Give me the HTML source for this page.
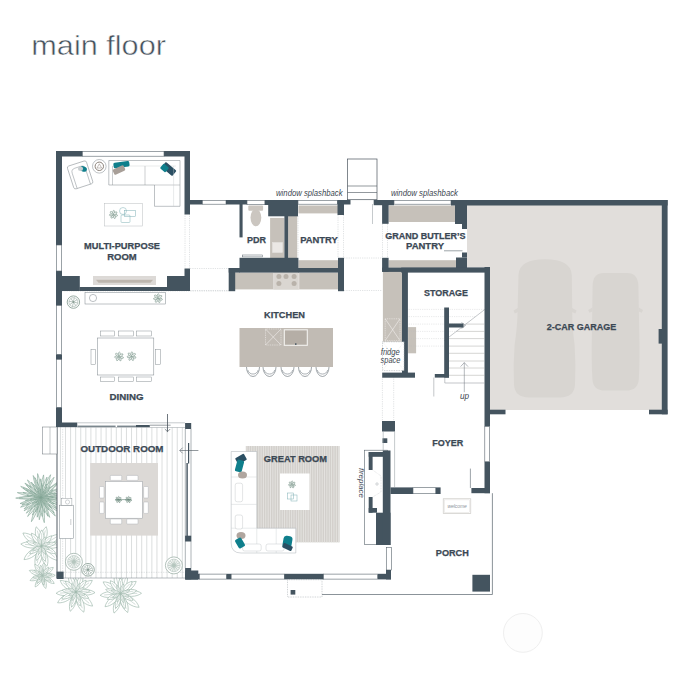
<!DOCTYPE html>
<html lang="en"><head><meta charset="utf-8"><title>main floor</title>
<style>
html,body{margin:0;padding:0;background:#fff;}
body{width:700px;height:680px;overflow:hidden;}
svg{display:block;}
svg text{font-family:"Liberation Sans",sans-serif;}
</style></head><body>
<svg width="700" height="680" viewBox="0 0 700 680">
<rect width="700" height="680" fill="#fff"/>
<path d="M467 205H662V410H490V267H467Z" fill="#e1dedb"/>
<path d="M518.5 275Q519 259.2 545 259.2Q571 259.2 571.8 275L572.3 318Q572.6 330 574.6 345Q576 365 575 385Q574 397.4 560 397.4H529Q515 397.4 514 385Q513 365 514.6 345Q516.8 330 517.4 318Z" fill="#d8d5d1"/>
<path d="M518 308L513.6 310.5L514.8 313.6L518 312Z M572 308L576.6 310.5L575.4 313.6L572 312Z" fill="#d8d5d1"/>
<path d="M592.6 286Q592.8 273 604 273H627Q638 273 638.4 286L639.2 330Q640 360 638.8 379Q638 390.6 626 390.6H605Q593 390.6 592.4 379Q591.2 360 592 330Z" fill="#d8d5d1"/>
<path d="M592.4 307.5L588.2 310L589.4 312.8L592.4 311.4Z M638.8 307.5L643 310L641.8 312.8L638.8 311.4Z" fill="#d8d5d1"/>
<path d="M41.0 497.5C48.7 498.9 57.5 498.5 63.0 497.0C57.5 495.8 48.7 495.8 41.0 497.5Z" fill="#e9f0ec" stroke="#7b9f90" stroke-width="0.55" stroke-linejoin="round"/>
<path d="M41.0 497.5C47.9 500.9 56.3 503.0 61.9 503.1C57.0 500.3 48.7 498.0 41.0 497.5Z" fill="#e9f0ec" stroke="#7b9f90" stroke-width="0.55" stroke-linejoin="round"/>
<path d="M41.0 497.5C47.4 502.7 55.6 506.9 61.4 508.3C57.0 504.3 48.9 499.9 41.0 497.5Z" fill="#e9f0ec" stroke="#7b9f90" stroke-width="0.55" stroke-linejoin="round"/>
<path d="M41.0 497.5C46.5 504.0 54.0 509.8 59.6 512.3C55.9 507.4 48.6 501.4 41.0 497.5Z" fill="#e9f0ec" stroke="#7b9f90" stroke-width="0.55" stroke-linejoin="round"/>
<path d="M41.0 497.5C44.7 505.0 50.6 512.3 55.4 516.0C52.9 510.5 47.3 503.0 41.0 497.5Z" fill="#e9f0ec" stroke="#7b9f90" stroke-width="0.55" stroke-linejoin="round"/>
<path d="M41.0 497.5C42.7 505.1 46.3 513.0 49.7 517.4C48.8 511.9 45.4 503.8 41.0 497.5Z" fill="#e9f0ec" stroke="#7b9f90" stroke-width="0.55" stroke-linejoin="round"/>
<path d="M41.0 497.5C40.4 506.5 41.9 516.6 44.3 522.7C45.1 516.2 43.9 506.1 41.0 497.5Z" fill="#e9f0ec" stroke="#7b9f90" stroke-width="0.55" stroke-linejoin="round"/>
<path d="M41.0 497.5C38.8 505.2 38.3 514.1 39.3 519.8C41.1 514.3 42.0 505.4 41.0 497.5Z" fill="#e9f0ec" stroke="#7b9f90" stroke-width="0.55" stroke-linejoin="round"/>
<path d="M41.0 497.5C36.0 505.3 32.3 515.0 31.4 521.7C35.3 516.2 39.3 506.6 41.0 497.5Z" fill="#e9f0ec" stroke="#7b9f90" stroke-width="0.55" stroke-linejoin="round"/>
<path d="M41.0 497.5C35.0 503.2 29.8 510.9 27.6 516.5C32.2 512.6 37.6 505.1 41.0 497.5Z" fill="#e9f0ec" stroke="#7b9f90" stroke-width="0.55" stroke-linejoin="round"/>
<path d="M41.0 497.5C34.2 501.0 27.5 506.4 24.1 510.8C29.2 508.5 36.0 503.3 41.0 497.5Z" fill="#e9f0ec" stroke="#7b9f90" stroke-width="0.55" stroke-linejoin="round"/>
<path d="M41.0 497.5C33.1 499.4 25.0 503.5 20.5 507.2C26.2 506.0 34.5 502.3 41.0 497.5Z" fill="#e9f0ec" stroke="#7b9f90" stroke-width="0.55" stroke-linejoin="round"/>
<path d="M41.0 497.5C33.2 498.2 24.9 500.8 20.0 503.6C25.7 503.4 34.1 501.1 41.0 497.5Z" fill="#e9f0ec" stroke="#7b9f90" stroke-width="0.55" stroke-linejoin="round"/>
<path d="M41.0 497.5C32.1 495.9 22.0 496.3 15.7 498.1C22.0 499.5 32.2 499.5 41.0 497.5Z" fill="#e9f0ec" stroke="#7b9f90" stroke-width="0.55" stroke-linejoin="round"/>
<path d="M41.0 497.5C33.1 494.1 23.6 492.4 17.3 492.6C22.9 495.3 32.4 497.4 41.0 497.5Z" fill="#e9f0ec" stroke="#7b9f90" stroke-width="0.55" stroke-linejoin="round"/>
<path d="M41.0 497.5C34.7 492.2 26.5 487.9 20.7 486.4C25.1 490.5 33.1 495.0 41.0 497.5Z" fill="#e9f0ec" stroke="#7b9f90" stroke-width="0.55" stroke-linejoin="round"/>
<path d="M41.0 497.5C36.4 491.3 29.9 485.7 24.9 483.1C28.0 487.7 34.4 493.6 41.0 497.5Z" fill="#e9f0ec" stroke="#7b9f90" stroke-width="0.55" stroke-linejoin="round"/>
<path d="M41.0 497.5C37.5 490.4 31.9 483.4 27.4 479.9C29.7 485.1 35.0 492.3 41.0 497.5Z" fill="#e9f0ec" stroke="#7b9f90" stroke-width="0.55" stroke-linejoin="round"/>
<path d="M41.0 497.5C39.8 489.2 36.5 480.5 33.2 475.5C33.7 481.5 36.7 490.3 41.0 497.5Z" fill="#e9f0ec" stroke="#7b9f90" stroke-width="0.55" stroke-linejoin="round"/>
<path d="M41.0 497.5C41.5 488.9 39.9 479.3 37.6 473.6C36.9 479.8 38.1 489.4 41.0 497.5Z" fill="#e9f0ec" stroke="#7b9f90" stroke-width="0.55" stroke-linejoin="round"/>
<path d="M41.0 497.5C43.5 489.8 44.4 480.7 43.6 474.9C41.5 480.4 40.3 489.4 41.0 497.5Z" fill="#e9f0ec" stroke="#7b9f90" stroke-width="0.55" stroke-linejoin="round"/>
<path d="M41.0 497.5C46.0 490.2 49.6 481.0 50.6 474.7C46.8 479.8 42.8 488.8 41.0 497.5Z" fill="#e9f0ec" stroke="#7b9f90" stroke-width="0.55" stroke-linejoin="round"/>
<path d="M41.0 497.5C47.0 491.3 52.1 483.1 54.1 477.2C49.5 481.5 44.2 489.5 41.0 497.5Z" fill="#e9f0ec" stroke="#7b9f90" stroke-width="0.55" stroke-linejoin="round"/>
<path d="M41.0 497.5C48.9 492.9 56.5 486.0 60.2 480.6C54.4 483.6 46.5 490.2 41.0 497.5Z" fill="#e9f0ec" stroke="#7b9f90" stroke-width="0.55" stroke-linejoin="round"/>
<path d="M41.0 497.5C48.8 495.4 56.9 491.3 61.4 487.5C55.7 488.7 47.4 492.6 41.0 497.5Z" fill="#e9f0ec" stroke="#7b9f90" stroke-width="0.55" stroke-linejoin="round"/>
<path d="M41.0 497.5C48.8 497.6 57.4 495.9 62.5 493.5C56.9 493.1 48.2 494.6 41.0 497.5Z" fill="#e9f0ec" stroke="#7b9f90" stroke-width="0.55" stroke-linejoin="round"/>
<path d="M41.0 497.5C47.3 501.4 55.1 504.2 60.4 504.8C56.0 501.8 48.3 498.7 41.0 497.5Z" fill="#e9f0ec" stroke="#7b9f90" stroke-width="0.55" stroke-linejoin="round"/>
<path d="M41.0 497.5C45.9 502.5 52.5 506.9 57.2 508.6C53.9 504.8 47.5 500.3 41.0 497.5Z" fill="#e9f0ec" stroke="#7b9f90" stroke-width="0.55" stroke-linejoin="round"/>
<path d="M41.0 497.5C44.6 503.8 50.0 509.9 54.3 513.0C52.0 508.3 46.7 502.0 41.0 497.5Z" fill="#e9f0ec" stroke="#7b9f90" stroke-width="0.55" stroke-linejoin="round"/>
<path d="M41.0 497.5C42.1 504.6 45.0 512.0 47.9 516.3C47.3 511.2 44.7 503.6 41.0 497.5Z" fill="#e9f0ec" stroke="#7b9f90" stroke-width="0.55" stroke-linejoin="round"/>
<path d="M41.0 497.5C40.1 504.2 40.7 511.8 42.2 516.4C43.1 511.6 42.7 504.0 41.0 497.5Z" fill="#e9f0ec" stroke="#7b9f90" stroke-width="0.55" stroke-linejoin="round"/>
<path d="M41.0 497.5C38.3 504.1 36.9 512.1 37.2 517.2C39.4 512.5 41.1 504.7 41.0 497.5Z" fill="#e9f0ec" stroke="#7b9f90" stroke-width="0.55" stroke-linejoin="round"/>
<path d="M41.0 497.5C36.8 503.1 33.5 510.2 32.5 515.1C35.8 511.2 39.3 504.3 41.0 497.5Z" fill="#e9f0ec" stroke="#7b9f90" stroke-width="0.55" stroke-linejoin="round"/>
<path d="M41.0 497.5C34.7 502.0 29.0 508.4 26.3 513.2C30.9 510.2 36.9 504.0 41.0 497.5Z" fill="#e9f0ec" stroke="#7b9f90" stroke-width="0.55" stroke-linejoin="round"/>
<path d="M41.0 497.5C34.3 500.3 27.6 504.9 24.0 508.8C29.0 507.1 35.9 502.7 41.0 497.5Z" fill="#e9f0ec" stroke="#7b9f90" stroke-width="0.55" stroke-linejoin="round"/>
<path d="M41.0 497.5C33.8 498.7 26.1 501.8 21.8 504.8C27.1 504.2 34.8 501.4 41.0 497.5Z" fill="#e9f0ec" stroke="#7b9f90" stroke-width="0.55" stroke-linejoin="round"/>
<path d="M41.0 497.5C33.4 496.1 24.7 496.5 19.2 498.0C24.7 499.2 33.4 499.2 41.0 497.5Z" fill="#e9f0ec" stroke="#7b9f90" stroke-width="0.55" stroke-linejoin="round"/>
<path d="M41.0 497.5C35.0 494.5 27.7 492.6 22.9 492.4C27.1 494.8 34.3 497.0 41.0 497.5Z" fill="#e9f0ec" stroke="#7b9f90" stroke-width="0.55" stroke-linejoin="round"/>
<path d="M41.0 497.5C35.4 492.9 28.1 489.1 23.0 487.8C26.9 491.4 34.0 495.4 41.0 497.5Z" fill="#e9f0ec" stroke="#7b9f90" stroke-width="0.55" stroke-linejoin="round"/>
<path d="M41.0 497.5C36.8 491.9 30.8 486.9 26.3 484.6C29.2 488.7 35.0 494.0 41.0 497.5Z" fill="#e9f0ec" stroke="#7b9f90" stroke-width="0.55" stroke-linejoin="round"/>
<path d="M41.0 497.5C38.7 491.4 34.8 485.4 31.4 482.1C32.8 486.6 36.6 492.8 41.0 497.5Z" fill="#e9f0ec" stroke="#7b9f90" stroke-width="0.55" stroke-linejoin="round"/>
<path d="M41.0 497.5C40.3 490.1 37.7 482.2 34.9 477.6C35.2 483.0 37.5 491.0 41.0 497.5Z" fill="#e9f0ec" stroke="#7b9f90" stroke-width="0.55" stroke-linejoin="round"/>
<path d="M41.0 497.5C42.2 490.9 42.0 483.5 40.7 478.8C39.6 483.5 39.6 491.0 41.0 497.5Z" fill="#e9f0ec" stroke="#7b9f90" stroke-width="0.55" stroke-linejoin="round"/>
<path d="M41.0 497.5C44.5 490.8 46.8 482.6 47.0 477.1C44.3 481.8 41.7 489.9 41.0 497.5Z" fill="#e9f0ec" stroke="#7b9f90" stroke-width="0.55" stroke-linejoin="round"/>
<path d="M41.0 497.5C45.6 492.3 49.4 485.5 50.8 480.6C47.3 484.2 43.2 490.9 41.0 497.5Z" fill="#e9f0ec" stroke="#7b9f90" stroke-width="0.55" stroke-linejoin="round"/>
<path d="M41.0 497.5C47.6 493.7 53.9 488.0 57.1 483.5C52.2 486.0 45.6 491.5 41.0 497.5Z" fill="#e9f0ec" stroke="#7b9f90" stroke-width="0.55" stroke-linejoin="round"/>
<path d="M41.0 497.5C48.4 495.9 56.1 492.4 60.5 489.0C55.1 489.9 47.2 493.2 41.0 497.5Z" fill="#e9f0ec" stroke="#7b9f90" stroke-width="0.55" stroke-linejoin="round"/>
<path d="M41.0 497.5C47.9 497.5 55.5 495.8 60.0 493.6C55.0 493.4 47.4 494.8 41.0 497.5Z" fill="#e9f0ec" stroke="#7b9f90" stroke-width="0.55" stroke-linejoin="round"/>
<path d="M41.0 497.5C48.3 499.6 56.8 500.1 62.2 499.2C57.0 497.4 48.6 496.6 41.0 497.5Z" fill="#e9f0ec" stroke="#7b9f90" stroke-width="0.55" stroke-linejoin="round"/>
<path d="M41.0 497.5C43.8 501.8 48.0 505.9 51.2 507.9C49.3 504.6 45.3 500.4 41.0 497.5Z" fill="#e9f0ec" stroke="#7b9f90" stroke-width="0.55" stroke-linejoin="round"/>
<path d="M41.0 497.5C42.9 502.4 46.1 507.4 48.8 510.1C47.6 506.4 44.6 501.4 41.0 497.5Z" fill="#e9f0ec" stroke="#7b9f90" stroke-width="0.55" stroke-linejoin="round"/>
<path d="M41.0 497.5C41.2 503.1 42.8 509.1 44.6 512.7C44.7 508.7 43.3 502.6 41.0 497.5Z" fill="#e9f0ec" stroke="#7b9f90" stroke-width="0.55" stroke-linejoin="round"/>
<path d="M41.0 497.5C39.3 502.5 38.7 508.5 39.2 512.3C40.6 508.7 41.4 502.8 41.0 497.5Z" fill="#e9f0ec" stroke="#7b9f90" stroke-width="0.55" stroke-linejoin="round"/>
<path d="M41.0 497.5C38.1 502.1 36.0 507.9 35.5 511.9C37.8 508.6 40.1 502.9 41.0 497.5Z" fill="#e9f0ec" stroke="#7b9f90" stroke-width="0.55" stroke-linejoin="round"/>
<path d="M41.0 497.5C36.5 500.9 32.4 505.8 30.5 509.4C33.9 507.1 38.1 502.4 41.0 497.5Z" fill="#e9f0ec" stroke="#7b9f90" stroke-width="0.55" stroke-linejoin="round"/>
<path d="M41.0 497.5C35.4 499.0 29.6 502.0 26.4 504.8C30.5 503.9 36.4 501.1 41.0 497.5Z" fill="#e9f0ec" stroke="#7b9f90" stroke-width="0.55" stroke-linejoin="round"/>
<path d="M41.0 497.5C35.3 497.5 29.0 498.9 25.3 500.7C29.4 500.9 35.7 499.7 41.0 497.5Z" fill="#e9f0ec" stroke="#7b9f90" stroke-width="0.55" stroke-linejoin="round"/>
<path d="M41.0 497.5C36.2 495.9 30.6 495.2 26.9 495.6C30.3 497.0 35.9 497.8 41.0 497.5Z" fill="#e9f0ec" stroke="#7b9f90" stroke-width="0.55" stroke-linejoin="round"/>
<path d="M41.0 497.5C36.4 493.8 30.4 490.9 26.2 489.9C29.4 492.8 35.3 495.9 41.0 497.5Z" fill="#e9f0ec" stroke="#7b9f90" stroke-width="0.55" stroke-linejoin="round"/>
<path d="M41.0 497.5C37.7 492.6 32.9 487.9 29.2 485.7C31.4 489.4 36.1 494.2 41.0 497.5Z" fill="#e9f0ec" stroke="#7b9f90" stroke-width="0.55" stroke-linejoin="round"/>
<path d="M41.0 497.5C39.2 492.3 36.0 487.1 33.3 484.3C34.4 488.1 37.4 493.4 41.0 497.5Z" fill="#e9f0ec" stroke="#7b9f90" stroke-width="0.55" stroke-linejoin="round"/>
<path d="M41.0 497.5C40.7 491.8 39.0 485.5 37.0 481.9C37.0 486.0 38.5 492.3 41.0 497.5Z" fill="#e9f0ec" stroke="#7b9f90" stroke-width="0.55" stroke-linejoin="round"/>
<path d="M41.0 497.5C42.3 492.6 42.5 486.9 41.8 483.3C40.7 486.8 40.3 492.5 41.0 497.5Z" fill="#e9f0ec" stroke="#7b9f90" stroke-width="0.55" stroke-linejoin="round"/>
<path d="M41.0 497.5C43.9 493.2 46.0 487.8 46.5 484.0C44.3 487.1 42.0 492.4 41.0 497.5Z" fill="#e9f0ec" stroke="#7b9f90" stroke-width="0.55" stroke-linejoin="round"/>
<path d="M41.0 497.5C45.0 494.4 48.7 490.1 50.4 486.8C47.4 488.9 43.5 493.1 41.0 497.5Z" fill="#e9f0ec" stroke="#7b9f90" stroke-width="0.55" stroke-linejoin="round"/>
<path d="M41.0 497.5C45.8 495.6 50.6 492.3 53.2 489.6C49.6 490.8 44.7 493.9 41.0 497.5Z" fill="#e9f0ec" stroke="#7b9f90" stroke-width="0.55" stroke-linejoin="round"/>
<path d="M41.0 497.5C46.4 497.2 52.3 495.6 55.8 493.7C51.8 493.7 45.9 495.1 41.0 497.5Z" fill="#e9f0ec" stroke="#7b9f90" stroke-width="0.55" stroke-linejoin="round"/>
<path d="M41.0 497.5C46.8 499.0 53.6 499.3 57.9 498.4C53.7 497.1 47.0 496.6 41.0 497.5Z" fill="#e9f0ec" stroke="#7b9f90" stroke-width="0.55" stroke-linejoin="round"/>
<path d="M41.0 497.5C45.2 500.6 50.5 503.0 54.1 503.7C51.2 501.3 46.0 498.7 41.0 497.5Z" fill="#e9f0ec" stroke="#7b9f90" stroke-width="0.55" stroke-linejoin="round"/>
<path d="M41.0 497.5C42.2 501.3 44.4 505.3 46.3 507.4C45.6 504.6 43.6 500.6 41.0 497.5Z" fill="#cfdcd5" stroke="#7b9f90" stroke-width="0.55" stroke-linejoin="round"/>
<path d="M41.0 497.5C40.7 501.3 41.2 505.6 42.1 508.2C42.5 505.4 42.1 501.1 41.0 497.5Z" fill="#cfdcd5" stroke="#7b9f90" stroke-width="0.55" stroke-linejoin="round"/>
<path d="M41.0 497.5C38.7 501.5 37.2 506.4 37.0 509.7C38.7 506.9 40.4 502.1 41.0 497.5Z" fill="#cfdcd5" stroke="#7b9f90" stroke-width="0.55" stroke-linejoin="round"/>
<path d="M41.0 497.5C37.9 500.3 35.2 504.0 34.0 506.8C36.4 504.9 39.2 501.2 41.0 497.5Z" fill="#cfdcd5" stroke="#7b9f90" stroke-width="0.55" stroke-linejoin="round"/>
<path d="M41.0 497.5C37.5 499.0 34.0 501.5 32.2 503.5C34.8 502.6 38.3 500.2 41.0 497.5Z" fill="#cfdcd5" stroke="#7b9f90" stroke-width="0.55" stroke-linejoin="round"/>
<path d="M41.0 497.5C37.1 497.5 32.7 498.5 30.2 499.7C33.0 499.9 37.4 499.0 41.0 497.5Z" fill="#cfdcd5" stroke="#7b9f90" stroke-width="0.55" stroke-linejoin="round"/>
<path d="M41.0 497.5C37.5 495.9 33.3 495.0 30.5 495.1C32.9 496.4 37.1 497.4 41.0 497.5Z" fill="#cfdcd5" stroke="#7b9f90" stroke-width="0.55" stroke-linejoin="round"/>
<path d="M41.0 497.5C37.5 494.6 33.0 492.2 29.8 491.4C32.2 493.6 36.7 496.2 41.0 497.5Z" fill="#cfdcd5" stroke="#7b9f90" stroke-width="0.55" stroke-linejoin="round"/>
<path d="M41.0 497.5C39.3 494.0 36.7 490.6 34.5 488.9C35.6 491.4 38.1 494.9 41.0 497.5Z" fill="#cfdcd5" stroke="#7b9f90" stroke-width="0.55" stroke-linejoin="round"/>
<path d="M41.0 497.5C40.7 493.8 39.5 489.8 38.2 487.4C38.3 490.1 39.3 494.2 41.0 497.5Z" fill="#cfdcd5" stroke="#7b9f90" stroke-width="0.55" stroke-linejoin="round"/>
<path d="M41.0 497.5C42.3 493.1 42.7 488.0 42.2 484.8C41.1 487.9 40.5 493.0 41.0 497.5Z" fill="#cfdcd5" stroke="#7b9f90" stroke-width="0.55" stroke-linejoin="round"/>
<path d="M41.0 497.5C43.8 494.2 46.1 489.9 46.9 486.9C44.7 489.2 42.3 493.4 41.0 497.5Z" fill="#cfdcd5" stroke="#7b9f90" stroke-width="0.55" stroke-linejoin="round"/>
<path d="M41.0 497.5C44.4 495.3 47.6 492.1 49.1 489.7C46.6 491.1 43.3 494.2 41.0 497.5Z" fill="#cfdcd5" stroke="#7b9f90" stroke-width="0.55" stroke-linejoin="round"/>
<path d="M41.0 497.5C45.3 496.6 49.8 494.5 52.3 492.6C49.2 493.1 44.6 495.0 41.0 497.5Z" fill="#cfdcd5" stroke="#7b9f90" stroke-width="0.55" stroke-linejoin="round"/>
<path d="M41.0 497.5C45.3 498.4 50.2 498.3 53.3 497.6C50.2 496.8 45.3 496.7 41.0 497.5Z" fill="#cfdcd5" stroke="#7b9f90" stroke-width="0.55" stroke-linejoin="round"/>
<path d="M41.0 497.5C44.3 499.5 48.5 501.0 51.3 501.3C49.0 499.7 44.9 498.1 41.0 497.5Z" fill="#cfdcd5" stroke="#7b9f90" stroke-width="0.55" stroke-linejoin="round"/>
<path d="M41.0 497.5C43.6 501.3 47.3 504.8 50.1 506.5C48.4 503.7 44.8 500.0 41.0 497.5Z" fill="#cfdcd5" stroke="#7b9f90" stroke-width="0.55" stroke-linejoin="round"/>
<path d="M41.0 497.5C40.6 500.4 40.8 503.6 41.4 505.6C41.8 503.5 41.7 500.3 41.0 497.5Z" fill="#cfdcd5" stroke="#7b9f90" stroke-width="0.55" stroke-linejoin="round"/>
<path d="M41.0 497.5C39.4 499.9 38.2 502.8 37.9 504.9C39.2 503.2 40.4 500.3 41.0 497.5Z" fill="#cfdcd5" stroke="#7b9f90" stroke-width="0.55" stroke-linejoin="round"/>
<path d="M41.0 497.5C38.8 499.0 36.7 501.3 35.7 503.0C37.3 501.9 39.5 499.8 41.0 497.5Z" fill="#cfdcd5" stroke="#7b9f90" stroke-width="0.55" stroke-linejoin="round"/>
<path d="M41.0 497.5C38.6 497.8 36.0 498.8 34.5 499.7C36.3 499.6 38.9 498.7 41.0 497.5Z" fill="#cfdcd5" stroke="#7b9f90" stroke-width="0.55" stroke-linejoin="round"/>
<path d="M41.0 497.5C38.5 496.8 35.6 496.6 33.8 496.9C35.5 497.5 38.4 497.8 41.0 497.5Z" fill="#cfdcd5" stroke="#7b9f90" stroke-width="0.55" stroke-linejoin="round"/>
<path d="M41.0 497.5C38.9 495.6 36.2 494.0 34.3 493.3C35.7 494.8 38.4 496.5 41.0 497.5Z" fill="#cfdcd5" stroke="#7b9f90" stroke-width="0.55" stroke-linejoin="round"/>
<path d="M41.0 497.5C40.2 494.9 38.8 492.3 37.5 490.9C38.0 492.7 39.3 495.4 41.0 497.5Z" fill="#cfdcd5" stroke="#7b9f90" stroke-width="0.55" stroke-linejoin="round"/>
<path d="M41.0 497.5C41.5 494.5 41.3 491.2 40.7 489.1C40.2 491.2 40.3 494.6 41.0 497.5Z" fill="#cfdcd5" stroke="#7b9f90" stroke-width="0.55" stroke-linejoin="round"/>
<path d="M41.0 497.5C42.5 495.3 43.6 492.6 44.0 490.7C42.8 492.2 41.6 494.9 41.0 497.5Z" fill="#cfdcd5" stroke="#7b9f90" stroke-width="0.55" stroke-linejoin="round"/>
<path d="M41.0 497.5C43.1 496.1 45.1 494.0 46.0 492.4C44.4 493.3 42.4 495.4 41.0 497.5Z" fill="#cfdcd5" stroke="#7b9f90" stroke-width="0.55" stroke-linejoin="round"/>
<path d="M41.0 497.5C43.5 497.1 46.2 496.1 47.7 495.0C45.9 495.2 43.2 496.2 41.0 497.5Z" fill="#cfdcd5" stroke="#7b9f90" stroke-width="0.55" stroke-linejoin="round"/>
<path d="M41.0 497.5C43.8 498.5 47.0 498.9 49.1 498.7C47.2 497.9 43.9 497.4 41.0 497.5Z" fill="#cfdcd5" stroke="#7b9f90" stroke-width="0.55" stroke-linejoin="round"/>
<path d="M41.0 497.5C42.8 499.5 45.3 501.2 47.1 501.9C45.9 500.4 43.5 498.6 41.0 497.5Z" fill="#cfdcd5" stroke="#7b9f90" stroke-width="0.55" stroke-linejoin="round"/>
<path d="M41.0 497.5C41.9 500.2 43.6 503.0 45.0 504.5C44.5 502.5 42.9 499.7 41.0 497.5Z" fill="#cfdcd5" stroke="#7b9f90" stroke-width="0.55" stroke-linejoin="round"/>
<path d="M41.5 546.0C49.4 549.7 58.0 548.5 63.1 544.2C57.4 540.8 48.7 541.0 41.5 546.0Z" fill="#fff" stroke="#9cb6aa" stroke-width="0.65" stroke-linejoin="round"/>
<path d="M41.5 546.0L58.8 544.6" stroke="#9cb6aa" stroke-width="0.45" fill="none"/>
<path d="M41.5 546.0C44.5 554.4 51.5 559.8 58.3 560.4C56.7 553.8 50.3 547.7 41.5 546.0Z" fill="#fff" stroke="#9cb6aa" stroke-width="0.65" stroke-linejoin="round"/>
<path d="M41.5 546.0L54.9 557.5" stroke="#9cb6aa" stroke-width="0.45" fill="none"/>
<path d="M41.5 546.0C39.4 554.2 42.0 562.2 47.0 566.3C49.3 560.2 47.5 552.0 41.5 546.0Z" fill="#fff" stroke="#9cb6aa" stroke-width="0.65" stroke-linejoin="round"/>
<path d="M41.5 546.0L45.9 562.3" stroke="#9cb6aa" stroke-width="0.45" fill="none"/>
<path d="M41.5 546.0C35.3 552.4 33.5 561.1 36.0 567.5C41.3 563.1 43.9 554.6 41.5 546.0Z" fill="#fff" stroke="#9cb6aa" stroke-width="0.65" stroke-linejoin="round"/>
<path d="M41.5 546.0L37.1 563.2" stroke="#9cb6aa" stroke-width="0.45" fill="none"/>
<path d="M41.5 546.0C32.7 547.3 25.9 553.1 24.0 559.6C30.8 559.4 38.1 554.3 41.5 546.0Z" fill="#fff" stroke="#9cb6aa" stroke-width="0.65" stroke-linejoin="round"/>
<path d="M41.5 546.0L27.5 556.9" stroke="#9cb6aa" stroke-width="0.45" fill="none"/>
<path d="M41.5 546.0C34.7 541.2 26.4 540.8 20.8 544.0C25.7 548.3 33.9 549.4 41.5 546.0Z" fill="#fff" stroke="#9cb6aa" stroke-width="0.65" stroke-linejoin="round"/>
<path d="M41.5 546.0L25.0 544.4" stroke="#9cb6aa" stroke-width="0.45" fill="none"/>
<path d="M41.5 546.0C37.6 537.7 29.9 532.9 22.9 533.0C25.2 539.6 32.4 545.2 41.5 546.0Z" fill="#fff" stroke="#9cb6aa" stroke-width="0.65" stroke-linejoin="round"/>
<path d="M41.5 546.0L26.6 535.6" stroke="#9cb6aa" stroke-width="0.45" fill="none"/>
<path d="M41.5 546.0C43.5 538.2 41.0 530.6 36.2 526.8C34.1 532.5 35.8 540.3 41.5 546.0Z" fill="#fff" stroke="#9cb6aa" stroke-width="0.65" stroke-linejoin="round"/>
<path d="M41.5 546.0L37.3 530.6" stroke="#9cb6aa" stroke-width="0.45" fill="none"/>
<path d="M41.5 546.0C47.0 540.2 48.5 532.4 46.2 526.7C41.6 530.7 39.3 538.3 41.5 546.0Z" fill="#fff" stroke="#9cb6aa" stroke-width="0.65" stroke-linejoin="round"/>
<path d="M41.5 546.0L45.3 530.5" stroke="#9cb6aa" stroke-width="0.45" fill="none"/>
<path d="M41.5 546.0C50.4 545.7 57.8 540.7 60.5 534.4C53.6 533.9 45.8 538.2 41.5 546.0Z" fill="#fff" stroke="#9cb6aa" stroke-width="0.65" stroke-linejoin="round"/>
<path d="M41.5 546.0L56.7 536.8" stroke="#9cb6aa" stroke-width="0.45" fill="none"/>
<path d="M41.5 546.0C45.0 551.4 50.8 554.1 55.7 553.4C53.5 549.0 48.0 545.7 41.5 546.0Z" fill="#fff" stroke="#9cb6aa" stroke-width="0.65" stroke-linejoin="round"/>
<path d="M41.5 546.0L52.9 551.9" stroke="#9cb6aa" stroke-width="0.45" fill="none"/>
<path d="M41.5 546.0C39.7 552.0 41.4 558.0 45.0 561.2C46.9 556.8 45.8 550.6 41.5 546.0Z" fill="#fff" stroke="#9cb6aa" stroke-width="0.65" stroke-linejoin="round"/>
<path d="M41.5 546.0L44.3 558.2" stroke="#9cb6aa" stroke-width="0.45" fill="none"/>
<path d="M41.5 546.0C36.8 550.0 35.0 555.9 36.3 560.4C40.2 557.8 42.6 552.1 41.5 546.0Z" fill="#fff" stroke="#9cb6aa" stroke-width="0.65" stroke-linejoin="round"/>
<path d="M41.5 546.0L37.4 557.5" stroke="#9cb6aa" stroke-width="0.45" fill="none"/>
<path d="M41.5 546.0C35.9 546.3 31.3 549.6 29.7 553.6C34.0 553.8 38.9 551.0 41.5 546.0Z" fill="#fff" stroke="#9cb6aa" stroke-width="0.65" stroke-linejoin="round"/>
<path d="M41.5 546.0L32.1 552.1" stroke="#9cb6aa" stroke-width="0.45" fill="none"/>
<path d="M41.5 546.0C37.2 541.4 31.1 539.9 26.6 541.5C29.5 545.3 35.4 547.4 41.5 546.0Z" fill="#fff" stroke="#9cb6aa" stroke-width="0.65" stroke-linejoin="round"/>
<path d="M41.5 546.0L29.6 542.4" stroke="#9cb6aa" stroke-width="0.45" fill="none"/>
<path d="M41.5 546.0C40.5 539.5 36.2 534.6 31.4 533.2C31.6 538.2 35.4 543.5 41.5 546.0Z" fill="#fff" stroke="#9cb6aa" stroke-width="0.65" stroke-linejoin="round"/>
<path d="M41.5 546.0L33.4 535.8" stroke="#9cb6aa" stroke-width="0.45" fill="none"/>
<path d="M41.5 546.0C44.8 540.4 44.6 533.9 41.7 529.9C38.7 533.9 38.3 540.3 41.5 546.0Z" fill="#fff" stroke="#9cb6aa" stroke-width="0.65" stroke-linejoin="round"/>
<path d="M41.5 546.0L41.7 533.1" stroke="#9cb6aa" stroke-width="0.45" fill="none"/>
<path d="M41.5 546.0C47.1 544.5 51.0 540.2 51.8 535.8C47.4 536.5 43.1 540.4 41.5 546.0Z" fill="#fff" stroke="#9cb6aa" stroke-width="0.65" stroke-linejoin="round"/>
<path d="M41.5 546.0L49.7 537.8" stroke="#9cb6aa" stroke-width="0.45" fill="none"/>
<path d="M41.5 546.0C47.1 547.9 52.8 546.4 55.9 543.1C51.8 541.2 46.0 542.1 41.5 546.0Z" fill="#fff" stroke="#9cb6aa" stroke-width="0.65" stroke-linejoin="round"/>
<path d="M41.5 546.0L53.0 543.7" stroke="#9cb6aa" stroke-width="0.45" fill="none"/>
<path d="M41.5 546.0C41.2 549.8 43.0 553.1 45.5 554.5C46.0 551.7 44.6 548.2 41.5 546.0Z" fill="#fff" stroke="#9cb6aa" stroke-width="0.65" stroke-linejoin="round"/>
<path d="M41.5 546.0L44.7 552.8" stroke="#9cb6aa" stroke-width="0.45" fill="none"/>
<path d="M41.5 546.0C38.7 548.4 37.6 551.9 38.3 554.6C40.7 553.0 42.1 549.6 41.5 546.0Z" fill="#fff" stroke="#9cb6aa" stroke-width="0.65" stroke-linejoin="round"/>
<path d="M41.5 546.0L39.0 552.9" stroke="#9cb6aa" stroke-width="0.45" fill="none"/>
<path d="M41.5 546.0C37.5 545.8 34.0 547.7 32.6 550.4C35.6 550.9 39.3 549.3 41.5 546.0Z" fill="#fff" stroke="#9cb6aa" stroke-width="0.65" stroke-linejoin="round"/>
<path d="M41.5 546.0L34.4 549.5" stroke="#9cb6aa" stroke-width="0.45" fill="none"/>
<path d="M41.5 546.0C39.2 543.1 35.7 541.9 32.9 542.7C34.4 545.0 37.8 546.5 41.5 546.0Z" fill="#fff" stroke="#9cb6aa" stroke-width="0.65" stroke-linejoin="round"/>
<path d="M41.5 546.0L34.6 543.3" stroke="#9cb6aa" stroke-width="0.45" fill="none"/>
<path d="M41.5 546.0C42.1 542.0 40.5 538.4 37.9 536.7C37.2 539.7 38.4 543.5 41.5 546.0Z" fill="#fff" stroke="#9cb6aa" stroke-width="0.65" stroke-linejoin="round"/>
<path d="M41.5 546.0L38.6 538.6" stroke="#9cb6aa" stroke-width="0.45" fill="none"/>
<path d="M41.5 546.0C44.6 543.5 46.0 539.8 45.2 536.8C42.6 538.4 41.0 542.0 41.5 546.0Z" fill="#fff" stroke="#9cb6aa" stroke-width="0.65" stroke-linejoin="round"/>
<path d="M41.5 546.0L44.5 538.6" stroke="#9cb6aa" stroke-width="0.45" fill="none"/>
<path d="M41.5 546.0C45.2 546.5 48.6 544.9 50.2 542.5C47.4 541.8 43.8 543.0 41.5 546.0Z" fill="#fff" stroke="#9cb6aa" stroke-width="0.65" stroke-linejoin="round"/>
<path d="M41.5 546.0L48.4 543.2" stroke="#9cb6aa" stroke-width="0.45" fill="none"/>
<path d="M41.5 546.0C43.6 548.7 46.8 549.9 49.4 549.4C48.0 547.1 44.9 545.6 41.5 546.0Z" fill="#fff" stroke="#9cb6aa" stroke-width="0.65" stroke-linejoin="round"/>
<path d="M41.5 546.0L47.8 548.7" stroke="#9cb6aa" stroke-width="0.45" fill="none"/>
<path d="M42.5 575.5C47.0 578.0 52.1 577.7 55.2 575.3C52.0 573.1 46.9 572.9 42.5 575.5Z" fill="#fff" stroke="#9cb6aa" stroke-width="0.65" stroke-linejoin="round"/>
<path d="M42.5 575.5L52.7 575.4" stroke="#9cb6aa" stroke-width="0.45" fill="none"/>
<path d="M42.5 575.5C45.0 580.6 49.8 583.6 54.2 583.5C52.7 579.4 48.2 576.0 42.5 575.5Z" fill="#fff" stroke="#9cb6aa" stroke-width="0.65" stroke-linejoin="round"/>
<path d="M42.5 575.5L51.8 581.9" stroke="#9cb6aa" stroke-width="0.45" fill="none"/>
<path d="M42.5 575.5C41.0 580.7 42.5 585.8 45.7 588.5C47.2 584.7 46.2 579.4 42.5 575.5Z" fill="#fff" stroke="#9cb6aa" stroke-width="0.65" stroke-linejoin="round"/>
<path d="M42.5 575.5L45.0 585.9" stroke="#9cb6aa" stroke-width="0.45" fill="none"/>
<path d="M42.5 575.5C37.7 578.0 35.0 582.8 35.2 586.9C39.1 585.4 42.2 581.0 42.5 575.5Z" fill="#fff" stroke="#9cb6aa" stroke-width="0.65" stroke-linejoin="round"/>
<path d="M42.5 575.5L36.7 584.6" stroke="#9cb6aa" stroke-width="0.45" fill="none"/>
<path d="M42.5 575.5C37.1 574.8 32.2 577.0 30.0 580.5C34.0 581.5 39.1 579.8 42.5 575.5Z" fill="#fff" stroke="#9cb6aa" stroke-width="0.65" stroke-linejoin="round"/>
<path d="M42.5 575.5L32.5 579.5" stroke="#9cb6aa" stroke-width="0.45" fill="none"/>
<path d="M42.5 575.5C38.9 571.1 33.5 569.4 29.3 570.5C31.7 574.2 36.9 576.4 42.5 575.5Z" fill="#fff" stroke="#9cb6aa" stroke-width="0.65" stroke-linejoin="round"/>
<path d="M42.5 575.5L32.0 571.5" stroke="#9cb6aa" stroke-width="0.45" fill="none"/>
<path d="M42.5 575.5C42.0 570.0 38.7 565.7 34.8 564.3C34.7 568.5 37.6 573.1 42.5 575.5Z" fill="#fff" stroke="#9cb6aa" stroke-width="0.65" stroke-linejoin="round"/>
<path d="M42.5 575.5L36.3 566.6" stroke="#9cb6aa" stroke-width="0.45" fill="none"/>
<path d="M42.5 575.5C45.6 571.3 46.0 566.2 44.1 562.7C41.4 565.6 40.5 570.7 42.5 575.5Z" fill="#fff" stroke="#9cb6aa" stroke-width="0.65" stroke-linejoin="round"/>
<path d="M42.5 575.5L43.8 565.2" stroke="#9cb6aa" stroke-width="0.45" fill="none"/>
<path d="M42.5 575.5C47.9 574.8 52.0 571.4 53.3 567.4C49.1 567.5 44.7 570.5 42.5 575.5Z" fill="#fff" stroke="#9cb6aa" stroke-width="0.65" stroke-linejoin="round"/>
<path d="M42.5 575.5L51.1 569.0" stroke="#9cb6aa" stroke-width="0.45" fill="none"/>
<path d="M42.5 575.5C44.3 579.2 47.7 581.3 50.8 581.2C49.8 578.3 46.6 575.8 42.5 575.5Z" fill="#fff" stroke="#9cb6aa" stroke-width="0.65" stroke-linejoin="round"/>
<path d="M42.5 575.5L49.1 580.1" stroke="#9cb6aa" stroke-width="0.45" fill="none"/>
<path d="M42.5 575.5C41.0 579.0 41.6 582.8 43.6 585.0C45.0 582.5 44.8 578.6 42.5 575.5Z" fill="#fff" stroke="#9cb6aa" stroke-width="0.65" stroke-linejoin="round"/>
<path d="M42.5 575.5L43.3 583.1" stroke="#9cb6aa" stroke-width="0.45" fill="none"/>
<path d="M42.5 575.5C39.0 577.2 36.9 580.4 36.9 583.4C39.7 582.4 42.1 579.4 42.5 575.5Z" fill="#fff" stroke="#9cb6aa" stroke-width="0.65" stroke-linejoin="round"/>
<path d="M42.5 575.5L38.0 581.8" stroke="#9cb6aa" stroke-width="0.45" fill="none"/>
<path d="M42.5 575.5C38.7 574.2 34.8 575.2 32.7 577.4C35.5 578.7 39.4 578.1 42.5 575.5Z" fill="#fff" stroke="#9cb6aa" stroke-width="0.65" stroke-linejoin="round"/>
<path d="M42.5 575.5L34.7 577.0" stroke="#9cb6aa" stroke-width="0.45" fill="none"/>
<path d="M42.5 575.5C40.7 572.0 37.4 570.0 34.4 570.1C35.4 572.9 38.6 575.2 42.5 575.5Z" fill="#fff" stroke="#9cb6aa" stroke-width="0.65" stroke-linejoin="round"/>
<path d="M42.5 575.5L36.0 571.2" stroke="#9cb6aa" stroke-width="0.45" fill="none"/>
<path d="M42.5 575.5C43.8 571.5 42.8 567.5 40.5 565.3C39.1 568.2 39.8 572.3 42.5 575.5Z" fill="#fff" stroke="#9cb6aa" stroke-width="0.65" stroke-linejoin="round"/>
<path d="M42.5 575.5L40.9 567.3" stroke="#9cb6aa" stroke-width="0.45" fill="none"/>
<path d="M42.5 575.5C46.3 573.8 48.6 570.4 48.6 567.2C45.6 568.2 43.0 571.4 42.5 575.5Z" fill="#fff" stroke="#9cb6aa" stroke-width="0.65" stroke-linejoin="round"/>
<path d="M42.5 575.5L47.4 568.9" stroke="#9cb6aa" stroke-width="0.45" fill="none"/>
<path d="M42.5 575.5C45.9 577.0 49.6 576.4 51.7 574.5C49.3 573.1 45.5 573.3 42.5 575.5Z" fill="#fff" stroke="#9cb6aa" stroke-width="0.65" stroke-linejoin="round"/>
<path d="M42.5 575.5L49.9 574.7" stroke="#9cb6aa" stroke-width="0.45" fill="none"/>
<path d="M42.5 575.5C41.8 578.0 42.6 580.4 44.1 581.6C44.8 579.8 44.3 577.3 42.5 575.5Z" fill="#fff" stroke="#9cb6aa" stroke-width="0.65" stroke-linejoin="round"/>
<path d="M42.5 575.5L43.8 580.4" stroke="#9cb6aa" stroke-width="0.45" fill="none"/>
<path d="M42.5 575.5C40.4 576.3 39.1 578.1 39.0 579.8C40.6 579.3 42.1 577.7 42.5 575.5Z" fill="#fff" stroke="#9cb6aa" stroke-width="0.65" stroke-linejoin="round"/>
<path d="M42.5 575.5L39.7 578.9" stroke="#9cb6aa" stroke-width="0.45" fill="none"/>
<path d="M42.5 575.5C40.3 574.6 38.0 575.0 36.7 576.2C38.3 577.1 40.6 576.9 42.5 575.5Z" fill="#fff" stroke="#9cb6aa" stroke-width="0.65" stroke-linejoin="round"/>
<path d="M42.5 575.5L37.9 576.1" stroke="#9cb6aa" stroke-width="0.45" fill="none"/>
<path d="M42.5 575.5C41.9 573.3 40.1 571.8 38.4 571.6C38.7 573.3 40.3 574.9 42.5 575.5Z" fill="#fff" stroke="#9cb6aa" stroke-width="0.65" stroke-linejoin="round"/>
<path d="M42.5 575.5L39.2 572.4" stroke="#9cb6aa" stroke-width="0.45" fill="none"/>
<path d="M42.5 575.5C43.9 573.5 44.0 571.1 43.0 569.4C41.8 570.9 41.5 573.3 42.5 575.5Z" fill="#fff" stroke="#9cb6aa" stroke-width="0.65" stroke-linejoin="round"/>
<path d="M42.5 575.5L42.9 570.7" stroke="#9cb6aa" stroke-width="0.45" fill="none"/>
<path d="M42.5 575.5C45.0 575.7 47.3 574.5 48.2 572.8C46.3 572.5 44.0 573.4 42.5 575.5Z" fill="#fff" stroke="#9cb6aa" stroke-width="0.65" stroke-linejoin="round"/>
<path d="M42.5 575.5L47.1 573.3" stroke="#9cb6aa" stroke-width="0.45" fill="none"/>
<path d="M42.5 575.5C44.1 577.4 46.5 578.0 48.3 577.5C47.2 575.9 44.9 575.0 42.5 575.5Z" fill="#fff" stroke="#9cb6aa" stroke-width="0.65" stroke-linejoin="round"/>
<path d="M42.5 575.5L47.1 577.1" stroke="#9cb6aa" stroke-width="0.45" fill="none"/>
<path d="M76.0 592.0C82.5 596.0 90.1 595.9 95.0 592.6C90.3 589.0 82.8 588.4 76.0 592.0Z" fill="#fff" stroke="#9cb6aa" stroke-width="0.65" stroke-linejoin="round"/>
<path d="M76.0 592.0L91.2 592.5" stroke="#9cb6aa" stroke-width="0.45" fill="none"/>
<path d="M76.0 592.0C79.0 600.2 85.9 605.5 92.6 606.1C90.9 599.6 84.6 593.6 76.0 592.0Z" fill="#fff" stroke="#9cb6aa" stroke-width="0.65" stroke-linejoin="round"/>
<path d="M76.0 592.0L89.2 603.3" stroke="#9cb6aa" stroke-width="0.45" fill="none"/>
<path d="M76.0 592.0C74.7 600.6 78.2 608.6 83.8 612.2C85.5 605.7 82.8 597.5 76.0 592.0Z" fill="#fff" stroke="#9cb6aa" stroke-width="0.65" stroke-linejoin="round"/>
<path d="M76.0 592.0L82.3 608.2" stroke="#9cb6aa" stroke-width="0.45" fill="none"/>
<path d="M76.0 592.0C70.1 597.6 68.2 605.4 70.2 611.3C75.1 607.5 77.8 599.9 76.0 592.0Z" fill="#fff" stroke="#9cb6aa" stroke-width="0.65" stroke-linejoin="round"/>
<path d="M76.0 592.0L71.3 607.4" stroke="#9cb6aa" stroke-width="0.45" fill="none"/>
<path d="M76.0 592.0C67.4 592.1 60.3 596.8 57.6 602.8C64.2 603.4 71.7 599.4 76.0 592.0Z" fill="#fff" stroke="#9cb6aa" stroke-width="0.65" stroke-linejoin="round"/>
<path d="M76.0 592.0L61.3 600.6" stroke="#9cb6aa" stroke-width="0.45" fill="none"/>
<path d="M76.0 592.0C68.8 588.5 60.8 589.4 56.1 593.3C61.3 596.6 69.3 596.4 76.0 592.0Z" fill="#fff" stroke="#9cb6aa" stroke-width="0.65" stroke-linejoin="round"/>
<path d="M76.0 592.0L60.1 593.1" stroke="#9cb6aa" stroke-width="0.45" fill="none"/>
<path d="M76.0 592.0C72.8 584.8 66.2 580.5 60.2 580.4C62.0 586.2 68.1 591.1 76.0 592.0Z" fill="#fff" stroke="#9cb6aa" stroke-width="0.65" stroke-linejoin="round"/>
<path d="M76.0 592.0L63.3 582.7" stroke="#9cb6aa" stroke-width="0.45" fill="none"/>
<path d="M76.0 592.0C77.1 584.2 73.9 577.1 68.8 573.8C67.4 579.6 69.9 587.1 76.0 592.0Z" fill="#fff" stroke="#9cb6aa" stroke-width="0.65" stroke-linejoin="round"/>
<path d="M76.0 592.0L70.3 577.4" stroke="#9cb6aa" stroke-width="0.45" fill="none"/>
<path d="M76.0 592.0C81.8 587.2 84.0 580.1 82.5 574.6C77.8 577.8 74.8 584.6 76.0 592.0Z" fill="#fff" stroke="#9cb6aa" stroke-width="0.65" stroke-linejoin="round"/>
<path d="M76.0 592.0L81.2 578.1" stroke="#9cb6aa" stroke-width="0.45" fill="none"/>
<path d="M76.0 592.0C84.0 591.2 90.3 586.3 92.3 580.4C86.1 580.4 79.4 584.7 76.0 592.0Z" fill="#fff" stroke="#9cb6aa" stroke-width="0.65" stroke-linejoin="round"/>
<path d="M76.0 592.0L89.0 582.8" stroke="#9cb6aa" stroke-width="0.45" fill="none"/>
<path d="M76.0 592.0C79.2 596.7 84.4 598.9 88.7 598.2C86.6 594.3 81.7 591.6 76.0 592.0Z" fill="#fff" stroke="#9cb6aa" stroke-width="0.65" stroke-linejoin="round"/>
<path d="M76.0 592.0L86.1 596.9" stroke="#9cb6aa" stroke-width="0.45" fill="none"/>
<path d="M76.0 592.0C74.7 597.7 76.7 603.2 80.3 605.9C81.7 601.7 80.3 596.0 76.0 592.0Z" fill="#fff" stroke="#9cb6aa" stroke-width="0.65" stroke-linejoin="round"/>
<path d="M76.0 592.0L79.4 603.1" stroke="#9cb6aa" stroke-width="0.45" fill="none"/>
<path d="M76.0 592.0C71.4 596.4 70.0 602.5 71.6 607.0C75.4 604.1 77.5 598.2 76.0 592.0Z" fill="#fff" stroke="#9cb6aa" stroke-width="0.65" stroke-linejoin="round"/>
<path d="M76.0 592.0L72.4 604.0" stroke="#9cb6aa" stroke-width="0.45" fill="none"/>
<path d="M76.0 592.0C69.7 591.5 64.2 594.5 61.8 598.7C66.6 599.6 72.4 597.2 76.0 592.0Z" fill="#fff" stroke="#9cb6aa" stroke-width="0.65" stroke-linejoin="round"/>
<path d="M76.0 592.0L64.7 597.3" stroke="#9cb6aa" stroke-width="0.45" fill="none"/>
<path d="M76.0 592.0C71.5 588.6 65.9 588.2 62.2 590.3C65.3 593.2 70.8 594.2 76.0 592.0Z" fill="#fff" stroke="#9cb6aa" stroke-width="0.65" stroke-linejoin="round"/>
<path d="M76.0 592.0L64.9 590.7" stroke="#9cb6aa" stroke-width="0.45" fill="none"/>
<path d="M76.0 592.0C74.5 586.1 70.1 581.9 65.5 581.0C66.1 585.7 70.1 590.3 76.0 592.0Z" fill="#fff" stroke="#9cb6aa" stroke-width="0.65" stroke-linejoin="round"/>
<path d="M76.0 592.0L67.6 583.2" stroke="#9cb6aa" stroke-width="0.45" fill="none"/>
<path d="M76.0 592.0C78.6 587.2 78.2 581.7 75.7 578.4C73.3 581.8 73.2 587.3 76.0 592.0Z" fill="#fff" stroke="#9cb6aa" stroke-width="0.65" stroke-linejoin="round"/>
<path d="M76.0 592.0L75.8 581.1" stroke="#9cb6aa" stroke-width="0.45" fill="none"/>
<path d="M76.0 592.0C81.9 589.9 85.7 585.0 86.1 580.2C81.4 581.3 77.2 585.9 76.0 592.0Z" fill="#fff" stroke="#9cb6aa" stroke-width="0.65" stroke-linejoin="round"/>
<path d="M76.0 592.0L84.1 582.6" stroke="#9cb6aa" stroke-width="0.45" fill="none"/>
<path d="M76.0 592.0C81.1 594.4 86.6 593.6 89.9 590.8C86.2 588.6 80.6 588.8 76.0 592.0Z" fill="#fff" stroke="#9cb6aa" stroke-width="0.65" stroke-linejoin="round"/>
<path d="M76.0 592.0L87.1 591.1" stroke="#9cb6aa" stroke-width="0.45" fill="none"/>
<path d="M76.0 592.0C75.8 595.8 77.6 599.1 80.2 600.5C80.7 597.6 79.2 594.1 76.0 592.0Z" fill="#fff" stroke="#9cb6aa" stroke-width="0.65" stroke-linejoin="round"/>
<path d="M76.0 592.0L79.3 598.8" stroke="#9cb6aa" stroke-width="0.45" fill="none"/>
<path d="M76.0 592.0C73.0 594.2 71.7 597.6 72.3 600.4C74.7 599.0 76.4 595.7 76.0 592.0Z" fill="#fff" stroke="#9cb6aa" stroke-width="0.65" stroke-linejoin="round"/>
<path d="M76.0 592.0L73.0 598.7" stroke="#9cb6aa" stroke-width="0.45" fill="none"/>
<path d="M76.0 592.0C72.7 591.8 69.8 593.5 68.7 595.7C71.2 596.1 74.2 594.8 76.0 592.0Z" fill="#fff" stroke="#9cb6aa" stroke-width="0.65" stroke-linejoin="round"/>
<path d="M76.0 592.0L70.1 595.0" stroke="#9cb6aa" stroke-width="0.45" fill="none"/>
<path d="M76.0 592.0C74.0 589.1 70.7 587.8 68.1 588.3C69.4 590.6 72.5 592.3 76.0 592.0Z" fill="#fff" stroke="#9cb6aa" stroke-width="0.65" stroke-linejoin="round"/>
<path d="M76.0 592.0L69.7 589.0" stroke="#9cb6aa" stroke-width="0.45" fill="none"/>
<path d="M76.0 592.0C76.2 588.2 74.3 584.9 71.7 583.5C71.2 586.4 72.8 589.9 76.0 592.0Z" fill="#fff" stroke="#9cb6aa" stroke-width="0.65" stroke-linejoin="round"/>
<path d="M76.0 592.0L72.5 585.2" stroke="#9cb6aa" stroke-width="0.45" fill="none"/>
<path d="M76.0 592.0C79.0 589.8 80.4 586.3 79.9 583.5C77.4 584.9 75.7 588.3 76.0 592.0Z" fill="#fff" stroke="#9cb6aa" stroke-width="0.65" stroke-linejoin="round"/>
<path d="M76.0 592.0L79.1 585.2" stroke="#9cb6aa" stroke-width="0.45" fill="none"/>
<path d="M76.0 592.0C79.8 592.2 83.1 590.3 84.4 587.8C81.5 587.3 78.1 588.8 76.0 592.0Z" fill="#fff" stroke="#9cb6aa" stroke-width="0.65" stroke-linejoin="round"/>
<path d="M76.0 592.0L82.7 588.6" stroke="#9cb6aa" stroke-width="0.45" fill="none"/>
<path d="M76.0 592.0C78.6 594.8 82.2 595.8 84.9 594.9C83.2 592.6 79.7 591.2 76.0 592.0Z" fill="#fff" stroke="#9cb6aa" stroke-width="0.65" stroke-linejoin="round"/>
<path d="M76.0 592.0L83.2 594.3" stroke="#9cb6aa" stroke-width="0.45" fill="none"/>
<path d="M120.5 593.5C127.9 597.6 136.3 597.1 141.5 593.3C136.2 589.6 127.8 589.2 120.5 593.5Z" fill="#fff" stroke="#9cb6aa" stroke-width="0.65" stroke-linejoin="round"/>
<path d="M120.5 593.5L137.3 593.3" stroke="#9cb6aa" stroke-width="0.45" fill="none"/>
<path d="M120.5 593.5C124.2 602.0 131.9 607.2 139.1 607.3C136.9 600.5 129.8 594.6 120.5 593.5Z" fill="#fff" stroke="#9cb6aa" stroke-width="0.65" stroke-linejoin="round"/>
<path d="M120.5 593.5L135.4 604.5" stroke="#9cb6aa" stroke-width="0.45" fill="none"/>
<path d="M120.5 593.5C119.2 601.6 122.4 609.0 127.7 612.5C129.3 606.4 126.8 598.7 120.5 593.5Z" fill="#fff" stroke="#9cb6aa" stroke-width="0.65" stroke-linejoin="round"/>
<path d="M120.5 593.5L126.2 608.7" stroke="#9cb6aa" stroke-width="0.45" fill="none"/>
<path d="M120.5 593.5C114.3 599.1 112.1 607.0 114.0 613.1C119.2 609.4 122.2 601.7 120.5 593.5Z" fill="#fff" stroke="#9cb6aa" stroke-width="0.65" stroke-linejoin="round"/>
<path d="M120.5 593.5L115.3 609.2" stroke="#9cb6aa" stroke-width="0.45" fill="none"/>
<path d="M120.5 593.5C112.4 595.0 106.5 600.6 105.0 606.7C111.3 606.2 117.7 601.2 120.5 593.5Z" fill="#fff" stroke="#9cb6aa" stroke-width="0.65" stroke-linejoin="round"/>
<path d="M120.5 593.5L108.1 604.1" stroke="#9cb6aa" stroke-width="0.45" fill="none"/>
<path d="M120.5 593.5C113.0 590.1 104.8 591.2 100.1 595.3C105.5 598.6 113.7 598.2 120.5 593.5Z" fill="#fff" stroke="#9cb6aa" stroke-width="0.65" stroke-linejoin="round"/>
<path d="M120.5 593.5L104.1 595.0" stroke="#9cb6aa" stroke-width="0.45" fill="none"/>
<path d="M120.5 593.5C116.8 586.0 109.6 581.6 103.1 581.9C105.4 587.9 112.1 592.9 120.5 593.5Z" fill="#fff" stroke="#9cb6aa" stroke-width="0.65" stroke-linejoin="round"/>
<path d="M120.5 593.5L106.6 584.2" stroke="#9cb6aa" stroke-width="0.45" fill="none"/>
<path d="M120.5 593.5C122.6 585.4 120.1 577.4 115.1 573.4C112.8 579.4 114.6 587.5 120.5 593.5Z" fill="#fff" stroke="#9cb6aa" stroke-width="0.65" stroke-linejoin="round"/>
<path d="M120.5 593.5L116.2 577.4" stroke="#9cb6aa" stroke-width="0.45" fill="none"/>
<path d="M120.5 593.5C126.6 588.0 128.7 580.1 126.8 574.1C121.7 577.8 118.8 585.4 120.5 593.5Z" fill="#fff" stroke="#9cb6aa" stroke-width="0.65" stroke-linejoin="round"/>
<path d="M120.5 593.5L125.6 577.9" stroke="#9cb6aa" stroke-width="0.45" fill="none"/>
<path d="M120.5 593.5C128.4 592.4 134.5 587.2 136.2 581.3C130.1 581.6 123.6 586.1 120.5 593.5Z" fill="#fff" stroke="#9cb6aa" stroke-width="0.65" stroke-linejoin="round"/>
<path d="M120.5 593.5L133.1 583.8" stroke="#9cb6aa" stroke-width="0.45" fill="none"/>
<path d="M120.5 593.5C123.5 598.4 128.7 600.9 133.1 600.3C131.1 596.4 126.3 593.4 120.5 593.5Z" fill="#fff" stroke="#9cb6aa" stroke-width="0.65" stroke-linejoin="round"/>
<path d="M120.5 593.5L130.5 599.0" stroke="#9cb6aa" stroke-width="0.45" fill="none"/>
<path d="M120.5 593.5C119.0 599.6 121.0 605.6 124.8 608.6C126.4 604.0 125.0 597.9 120.5 593.5Z" fill="#fff" stroke="#9cb6aa" stroke-width="0.65" stroke-linejoin="round"/>
<path d="M120.5 593.5L123.9 605.6" stroke="#9cb6aa" stroke-width="0.45" fill="none"/>
<path d="M120.5 593.5C115.9 597.7 114.3 603.7 115.7 608.2C119.6 605.4 121.8 599.6 120.5 593.5Z" fill="#fff" stroke="#9cb6aa" stroke-width="0.65" stroke-linejoin="round"/>
<path d="M120.5 593.5L116.7 605.3" stroke="#9cb6aa" stroke-width="0.45" fill="none"/>
<path d="M120.5 593.5C114.7 592.9 109.5 595.5 107.2 599.3C111.6 600.3 117.0 598.2 120.5 593.5Z" fill="#fff" stroke="#9cb6aa" stroke-width="0.65" stroke-linejoin="round"/>
<path d="M120.5 593.5L109.8 598.1" stroke="#9cb6aa" stroke-width="0.45" fill="none"/>
<path d="M120.5 593.5C116.1 589.1 110.1 587.8 105.7 589.5C108.6 593.2 114.5 595.1 120.5 593.5Z" fill="#fff" stroke="#9cb6aa" stroke-width="0.65" stroke-linejoin="round"/>
<path d="M120.5 593.5L108.6 590.3" stroke="#9cb6aa" stroke-width="0.45" fill="none"/>
<path d="M120.5 593.5C119.5 587.0 115.1 582.0 110.3 580.7C110.5 585.7 114.3 591.1 120.5 593.5Z" fill="#fff" stroke="#9cb6aa" stroke-width="0.65" stroke-linejoin="round"/>
<path d="M120.5 593.5L112.3 583.2" stroke="#9cb6aa" stroke-width="0.45" fill="none"/>
<path d="M120.5 593.5C123.6 588.1 123.4 581.8 120.6 577.9C117.7 581.8 117.4 588.0 120.5 593.5Z" fill="#fff" stroke="#9cb6aa" stroke-width="0.65" stroke-linejoin="round"/>
<path d="M120.5 593.5L120.6 581.0" stroke="#9cb6aa" stroke-width="0.45" fill="none"/>
<path d="M120.5 593.5C127.0 591.6 131.4 586.5 132.1 581.3C127.0 582.3 122.1 586.9 120.5 593.5Z" fill="#fff" stroke="#9cb6aa" stroke-width="0.65" stroke-linejoin="round"/>
<path d="M120.5 593.5L129.8 583.8" stroke="#9cb6aa" stroke-width="0.45" fill="none"/>
<path d="M120.5 593.5C126.7 595.7 133.1 594.2 136.6 590.6C132.1 588.4 125.6 589.2 120.5 593.5Z" fill="#fff" stroke="#9cb6aa" stroke-width="0.65" stroke-linejoin="round"/>
<path d="M120.5 593.5L133.4 591.1" stroke="#9cb6aa" stroke-width="0.45" fill="none"/>
<path d="M120.5 593.5C119.8 597.4 121.3 601.0 123.8 602.6C124.6 599.8 123.5 596.0 120.5 593.5Z" fill="#fff" stroke="#9cb6aa" stroke-width="0.65" stroke-linejoin="round"/>
<path d="M120.5 593.5L123.1 600.8" stroke="#9cb6aa" stroke-width="0.45" fill="none"/>
<path d="M120.5 593.5C117.6 595.8 116.4 599.3 117.1 602.1C119.5 600.6 121.0 597.2 120.5 593.5Z" fill="#fff" stroke="#9cb6aa" stroke-width="0.65" stroke-linejoin="round"/>
<path d="M120.5 593.5L117.7 600.4" stroke="#9cb6aa" stroke-width="0.45" fill="none"/>
<path d="M120.5 593.5C116.9 593.3 113.8 595.1 112.6 597.6C115.3 598.0 118.5 596.5 120.5 593.5Z" fill="#fff" stroke="#9cb6aa" stroke-width="0.65" stroke-linejoin="round"/>
<path d="M120.5 593.5L114.2 596.8" stroke="#9cb6aa" stroke-width="0.45" fill="none"/>
<path d="M120.5 593.5C117.8 590.6 114.0 589.5 111.1 590.4C112.9 592.9 116.6 594.3 120.5 593.5Z" fill="#fff" stroke="#9cb6aa" stroke-width="0.65" stroke-linejoin="round"/>
<path d="M120.5 593.5L113.0 591.1" stroke="#9cb6aa" stroke-width="0.45" fill="none"/>
<path d="M120.5 593.5C120.8 589.9 119.1 586.7 116.7 585.4C116.2 588.1 117.6 591.4 120.5 593.5Z" fill="#fff" stroke="#9cb6aa" stroke-width="0.65" stroke-linejoin="round"/>
<path d="M120.5 593.5L117.5 587.0" stroke="#9cb6aa" stroke-width="0.45" fill="none"/>
<path d="M120.5 593.5C123.5 590.8 124.6 586.9 123.6 584.0C121.1 585.8 119.7 589.5 120.5 593.5Z" fill="#fff" stroke="#9cb6aa" stroke-width="0.65" stroke-linejoin="round"/>
<path d="M120.5 593.5L123.0 585.9" stroke="#9cb6aa" stroke-width="0.45" fill="none"/>
<path d="M120.5 593.5C124.4 594.3 128.0 592.9 129.8 590.5C126.9 589.6 123.2 590.6 120.5 593.5Z" fill="#fff" stroke="#9cb6aa" stroke-width="0.65" stroke-linejoin="round"/>
<path d="M120.5 593.5L127.9 591.1" stroke="#9cb6aa" stroke-width="0.45" fill="none"/>
<path d="M120.5 593.5C122.8 596.3 126.3 597.4 129.0 596.7C127.5 594.3 124.1 592.9 120.5 593.5Z" fill="#fff" stroke="#9cb6aa" stroke-width="0.65" stroke-linejoin="round"/>
<path d="M120.5 593.5L127.3 596.0" stroke="#9cb6aa" stroke-width="0.45" fill="none"/>
<rect x="57.00" y="427.00" width="133.50" height="151.00" fill="#fff" />
<line x1="60.42" y1="427.00" x2="60.42" y2="578.00" stroke="#c2c7c7" stroke-width="0.6" />
<line x1="65.50" y1="427.00" x2="65.50" y2="578.00" stroke="#c2c7c7" stroke-width="0.6" />
<line x1="70.58" y1="427.00" x2="70.58" y2="578.00" stroke="#c2c7c7" stroke-width="0.6" />
<line x1="75.66" y1="427.00" x2="75.66" y2="578.00" stroke="#c2c7c7" stroke-width="0.6" />
<line x1="80.74" y1="427.00" x2="80.74" y2="578.00" stroke="#c2c7c7" stroke-width="0.6" />
<line x1="85.82" y1="427.00" x2="85.82" y2="578.00" stroke="#c2c7c7" stroke-width="0.6" />
<line x1="90.90" y1="427.00" x2="90.90" y2="578.00" stroke="#c2c7c7" stroke-width="0.6" />
<line x1="95.98" y1="427.00" x2="95.98" y2="578.00" stroke="#c2c7c7" stroke-width="0.6" />
<line x1="101.06" y1="427.00" x2="101.06" y2="578.00" stroke="#c2c7c7" stroke-width="0.6" />
<line x1="106.14" y1="427.00" x2="106.14" y2="578.00" stroke="#c2c7c7" stroke-width="0.6" />
<line x1="111.22" y1="427.00" x2="111.22" y2="578.00" stroke="#c2c7c7" stroke-width="0.6" />
<line x1="116.30" y1="427.00" x2="116.30" y2="578.00" stroke="#c2c7c7" stroke-width="0.6" />
<line x1="121.38" y1="427.00" x2="121.38" y2="578.00" stroke="#c2c7c7" stroke-width="0.6" />
<line x1="126.46" y1="427.00" x2="126.46" y2="578.00" stroke="#c2c7c7" stroke-width="0.6" />
<line x1="131.54" y1="427.00" x2="131.54" y2="578.00" stroke="#c2c7c7" stroke-width="0.6" />
<line x1="136.62" y1="427.00" x2="136.62" y2="578.00" stroke="#c2c7c7" stroke-width="0.6" />
<line x1="141.70" y1="427.00" x2="141.70" y2="578.00" stroke="#c2c7c7" stroke-width="0.6" />
<line x1="146.78" y1="427.00" x2="146.78" y2="578.00" stroke="#c2c7c7" stroke-width="0.6" />
<line x1="151.86" y1="427.00" x2="151.86" y2="578.00" stroke="#c2c7c7" stroke-width="0.6" />
<line x1="156.94" y1="427.00" x2="156.94" y2="578.00" stroke="#c2c7c7" stroke-width="0.6" />
<line x1="162.02" y1="427.00" x2="162.02" y2="578.00" stroke="#c2c7c7" stroke-width="0.6" />
<line x1="167.10" y1="427.00" x2="167.10" y2="578.00" stroke="#c2c7c7" stroke-width="0.6" />
<line x1="172.18" y1="427.00" x2="172.18" y2="578.00" stroke="#c2c7c7" stroke-width="0.6" />
<line x1="177.26" y1="427.00" x2="177.26" y2="578.00" stroke="#c2c7c7" stroke-width="0.6" />
<line x1="182.34" y1="427.00" x2="182.34" y2="578.00" stroke="#c2c7c7" stroke-width="0.6" />
<rect x="57.00" y="427.00" width="133.50" height="151.00" fill="none" stroke="#6f7880" stroke-width="0.5" />
<line x1="57.00" y1="427.00" x2="57.00" y2="578.00" stroke="#4a545d" stroke-width="0.7" />
<line x1="62.70" y1="429.00" x2="62.70" y2="572.30" stroke="#9aa1a6" stroke-width="0.4" stroke-dasharray="0.7 1"/>
<line x1="62.70" y1="572.30" x2="185.00" y2="572.30" stroke="#9aa1a6" stroke-width="0.4" stroke-dasharray="0.7 1"/>
<rect x="42.40" y="427.00" width="14.60" height="27.00" fill="#fff" stroke="#6b737a" stroke-width="0.5" />
<line x1="50.00" y1="427.00" x2="50.00" y2="454.00" stroke="#6b737a" stroke-width="0.4" />
<rect x="90.20" y="463.00" width="67.80" height="72.60" fill="#dcd9d6" />
<rect x="245.80" y="446.00" width="93.80" height="96.30" fill="#d2cfcb" />
<line x1="247.00" y1="446.00" x2="247.00" y2="542.60" stroke="#e9e7e4" stroke-width="0.8" />
<line x1="249.35" y1="446.00" x2="249.35" y2="542.60" stroke="#e9e7e4" stroke-width="0.8" />
<line x1="251.70" y1="446.00" x2="251.70" y2="542.60" stroke="#e9e7e4" stroke-width="0.8" />
<line x1="254.05" y1="446.00" x2="254.05" y2="542.60" stroke="#e9e7e4" stroke-width="0.8" />
<line x1="256.40" y1="446.00" x2="256.40" y2="542.60" stroke="#e9e7e4" stroke-width="0.8" />
<line x1="258.75" y1="446.00" x2="258.75" y2="542.60" stroke="#e9e7e4" stroke-width="0.8" />
<line x1="261.10" y1="446.00" x2="261.10" y2="542.60" stroke="#e9e7e4" stroke-width="0.8" />
<line x1="263.45" y1="446.00" x2="263.45" y2="542.60" stroke="#e9e7e4" stroke-width="0.8" />
<line x1="265.80" y1="446.00" x2="265.80" y2="542.60" stroke="#e9e7e4" stroke-width="0.8" />
<line x1="268.15" y1="446.00" x2="268.15" y2="542.60" stroke="#e9e7e4" stroke-width="0.8" />
<line x1="270.50" y1="446.00" x2="270.50" y2="542.60" stroke="#e9e7e4" stroke-width="0.8" />
<line x1="272.85" y1="446.00" x2="272.85" y2="542.60" stroke="#e9e7e4" stroke-width="0.8" />
<line x1="275.20" y1="446.00" x2="275.20" y2="542.60" stroke="#e9e7e4" stroke-width="0.8" />
<line x1="277.55" y1="446.00" x2="277.55" y2="542.60" stroke="#e9e7e4" stroke-width="0.8" />
<line x1="279.90" y1="446.00" x2="279.90" y2="542.60" stroke="#e9e7e4" stroke-width="0.8" />
<line x1="282.25" y1="446.00" x2="282.25" y2="542.60" stroke="#e9e7e4" stroke-width="0.8" />
<line x1="284.60" y1="446.00" x2="284.60" y2="542.60" stroke="#e9e7e4" stroke-width="0.8" />
<line x1="286.95" y1="446.00" x2="286.95" y2="542.60" stroke="#e9e7e4" stroke-width="0.8" />
<line x1="289.30" y1="446.00" x2="289.30" y2="542.60" stroke="#e9e7e4" stroke-width="0.8" />
<line x1="291.65" y1="446.00" x2="291.65" y2="542.60" stroke="#e9e7e4" stroke-width="0.8" />
<line x1="294.00" y1="446.00" x2="294.00" y2="542.60" stroke="#e9e7e4" stroke-width="0.8" />
<line x1="296.35" y1="446.00" x2="296.35" y2="542.60" stroke="#e9e7e4" stroke-width="0.8" />
<line x1="298.70" y1="446.00" x2="298.70" y2="542.60" stroke="#e9e7e4" stroke-width="0.8" />
<line x1="301.05" y1="446.00" x2="301.05" y2="542.60" stroke="#e9e7e4" stroke-width="0.8" />
<line x1="303.40" y1="446.00" x2="303.40" y2="542.60" stroke="#e9e7e4" stroke-width="0.8" />
<line x1="305.75" y1="446.00" x2="305.75" y2="542.60" stroke="#e9e7e4" stroke-width="0.8" />
<line x1="308.10" y1="446.00" x2="308.10" y2="542.60" stroke="#e9e7e4" stroke-width="0.8" />
<line x1="310.45" y1="446.00" x2="310.45" y2="542.60" stroke="#e9e7e4" stroke-width="0.8" />
<line x1="312.80" y1="446.00" x2="312.80" y2="542.60" stroke="#e9e7e4" stroke-width="0.8" />
<line x1="315.15" y1="446.00" x2="315.15" y2="542.60" stroke="#e9e7e4" stroke-width="0.8" />
<line x1="317.50" y1="446.00" x2="317.50" y2="542.60" stroke="#e9e7e4" stroke-width="0.8" />
<line x1="319.85" y1="446.00" x2="319.85" y2="542.60" stroke="#e9e7e4" stroke-width="0.8" />
<line x1="322.20" y1="446.00" x2="322.20" y2="542.60" stroke="#e9e7e4" stroke-width="0.8" />
<line x1="324.55" y1="446.00" x2="324.55" y2="542.60" stroke="#e9e7e4" stroke-width="0.8" />
<line x1="326.90" y1="446.00" x2="326.90" y2="542.60" stroke="#e9e7e4" stroke-width="0.8" />
<line x1="329.25" y1="446.00" x2="329.25" y2="542.60" stroke="#e9e7e4" stroke-width="0.8" />
<line x1="331.60" y1="446.00" x2="331.60" y2="542.60" stroke="#e9e7e4" stroke-width="0.8" />
<line x1="333.95" y1="446.00" x2="333.95" y2="542.60" stroke="#e9e7e4" stroke-width="0.8" />
<line x1="336.30" y1="446.00" x2="336.30" y2="542.60" stroke="#e9e7e4" stroke-width="0.8" />
<line x1="338.65" y1="446.00" x2="338.65" y2="542.60" stroke="#e9e7e4" stroke-width="0.8" />
<rect x="235.00" y="272.60" width="103.00" height="16.80" fill="#c6c1ba" />
<rect x="273.70" y="272.60" width="25.20" height="16.80" fill="#dad6d1" />
<circle cx="278.9" cy="276.6" r="2.5" fill="#b9b2aa"/>
<circle cx="286" cy="276.6" r="2.5" fill="#b9b2aa"/>
<circle cx="294.1" cy="276.6" r="2.5" fill="#b9b2aa"/>
<circle cx="278.9" cy="283.4" r="2.5" fill="#b9b2aa"/>
<circle cx="294.1" cy="283.4" r="2.5" fill="#b9b2aa"/>
<line x1="273.70" y1="272.60" x2="273.70" y2="289.40" stroke="#eeeceb" stroke-width="0.6" />
<line x1="298.90" y1="272.60" x2="298.90" y2="289.40" stroke="#eeeceb" stroke-width="0.6" />
<rect x="239.50" y="328.00" width="93.50" height="39.00" fill="#c1bbb4" />
<rect x="265.50" y="329.00" width="15.50" height="16.00" fill="none" stroke="#f1efec" stroke-width="0.6" stroke-dasharray="1 0.8"/>
<line x1="265.50" y1="329.00" x2="281.00" y2="345.00" stroke="#f1efec" stroke-width="0.6" />
<line x1="281.00" y1="329.00" x2="265.50" y2="345.00" stroke="#f1efec" stroke-width="0.6" />
<rect x="284.30" y="329.80" width="23.00" height="15.50" fill="#b5aea6" stroke="#f4f2f0" stroke-width="1.1" />
<rect x="295.20" y="343.20" width="1.20" height="1.80" fill="#3f4f5c" />
<path d="M246.5 367A6.5 9.5 0 0 0 259.5 367" fill="#fff" stroke="#5f6970" stroke-width="0.6"/>
<path d="M247.8 370A5.5 6 0 0 0 258.2 370" fill="none" stroke="#5f6970" stroke-width="0.5"/>
<path d="M263.0 367A6.5 9.5 0 0 0 276.0 367" fill="#fff" stroke="#5f6970" stroke-width="0.6"/>
<path d="M264.3 370A5.5 6 0 0 0 274.7 370" fill="none" stroke="#5f6970" stroke-width="0.5"/>
<path d="M281.0 367A6.5 9.5 0 0 0 294.0 367" fill="#fff" stroke="#5f6970" stroke-width="0.6"/>
<path d="M282.3 370A5.5 6 0 0 0 292.7 370" fill="none" stroke="#5f6970" stroke-width="0.5"/>
<path d="M298.5 367A6.5 9.5 0 0 0 311.5 367" fill="#fff" stroke="#5f6970" stroke-width="0.6"/>
<path d="M299.8 370A5.5 6 0 0 0 310.2 370" fill="none" stroke="#5f6970" stroke-width="0.5"/>
<path d="M316.0 367A6.5 9.5 0 0 0 329.0 367" fill="#fff" stroke="#5f6970" stroke-width="0.6"/>
<path d="M317.3 370A5.5 6 0 0 0 327.7 370" fill="none" stroke="#5f6970" stroke-width="0.5"/>
<rect x="270.10" y="217.90" width="14.30" height="41.70" fill="#c6c1ba" />
<rect x="272.50" y="242.50" width="10.00" height="10.00" fill="#ebe8e5" stroke="#e8e5e2" stroke-width="0.5" />
<rect x="248.3" y="205.5" width="14.8" height="5.2" rx="1" fill="#cbc6c0"/>
<ellipse cx="255.9" cy="217.6" rx="5.4" ry="8.7" fill="#cbc6c0"/>
<rect x="288.10" y="216.00" width="9.10" height="42.00" fill="#c6c1ba" />
<rect x="298.40" y="205.50" width="39.60" height="7.90" fill="#c6c1ba" />
<rect x="298.40" y="260.20" width="39.60" height="7.80" fill="#c6c1ba" />
<rect x="388.60" y="205.50" width="66.80" height="16.50" fill="#c6c1ba" />
<rect x="388.60" y="260.20" width="67.40" height="7.60" fill="#c6c1ba" />
<rect x="382.90" y="271.00" width="19.10" height="70.80" fill="#c6c1ba" />
<rect x="385.20" y="318.80" width="14.80" height="21.80" fill="none" stroke="#f1efec" stroke-width="0.6" stroke-dasharray="1 0.8"/>
<line x1="385.20" y1="318.80" x2="400.00" y2="340.60" stroke="#f1efec" stroke-width="0.6" />
<line x1="400.00" y1="318.80" x2="385.20" y2="340.60" stroke="#f1efec" stroke-width="0.6" />
<rect x="408.10" y="327.10" width="8.00" height="26.20" fill="#c6c1ba" />
<rect x="93.00" y="276.00" width="63.00" height="9.00" fill="#dcd9d6" />
<path d="M95.5 279.3H153.5L150.5 282.8H98.5Z" fill="#bdb6ae"/>
<line x1="95.50" y1="279.30" x2="153.50" y2="279.30" stroke="#f4f3f1" stroke-width="0.5" />
<line x1="185.00" y1="214.50" x2="185.00" y2="268.50" stroke="#aab0b4" stroke-width="0.5" stroke-dasharray="0.7 1.1"/>
<line x1="189.50" y1="214.50" x2="189.50" y2="268.50" stroke="#aab0b4" stroke-width="0.5" stroke-dasharray="0.7 1.1"/>
<line x1="190.00" y1="268.50" x2="229.00" y2="268.50" stroke="#aab0b4" stroke-width="0.5" stroke-dasharray="0.7 1.1"/>
<line x1="190.00" y1="290.50" x2="229.00" y2="290.50" stroke="#aab0b4" stroke-width="0.5" stroke-dasharray="0.7 1.1"/>
<line x1="338.00" y1="215.00" x2="338.00" y2="257.50" stroke="#aab0b4" stroke-width="0.5" stroke-dasharray="0.7 1.1"/>
<line x1="343.50" y1="215.00" x2="343.50" y2="257.50" stroke="#aab0b4" stroke-width="0.5" stroke-dasharray="0.7 1.1"/>
<line x1="344.00" y1="258.00" x2="382.00" y2="258.00" stroke="#aab0b4" stroke-width="0.5" stroke-dasharray="0.7 1.1"/>
<line x1="344.00" y1="290.50" x2="382.00" y2="290.50" stroke="#aab0b4" stroke-width="0.5" stroke-dasharray="0.7 1.1"/>
<line x1="382.50" y1="224.00" x2="382.50" y2="257.50" stroke="#aab0b4" stroke-width="0.5" stroke-dasharray="0.7 1.1"/>
<line x1="387.50" y1="224.00" x2="387.50" y2="257.50" stroke="#aab0b4" stroke-width="0.5" stroke-dasharray="0.7 1.1"/>
<line x1="382.40" y1="377.60" x2="382.40" y2="421.00" stroke="#aab0b4" stroke-width="0.5" stroke-dasharray="0.7 1.1"/>
<line x1="393.70" y1="377.60" x2="393.70" y2="421.00" stroke="#aab0b4" stroke-width="0.5" stroke-dasharray="0.7 1.1"/>
<line x1="62.00" y1="291.00" x2="229.00" y2="291.00" stroke="#aab0b4" stroke-width="0.5" stroke-dasharray="0.7 1.1"/>
<line x1="298.00" y1="216.00" x2="298.00" y2="257.50" stroke="#aab0b4" stroke-width="0.5" stroke-dasharray="0.7 1.1"/>
<line x1="338.00" y1="262.00" x2="338.00" y2="262.00" stroke="#aab0b4" stroke-width="0.5" stroke-dasharray="0.7 1.1"/>
<line x1="407.60" y1="309.40" x2="444.30" y2="309.40" stroke="#b9bdbf" stroke-width="0.45" stroke-dasharray="0.7 1.1"/>
<line x1="407.60" y1="316.60" x2="444.30" y2="316.60" stroke="#b9bdbf" stroke-width="0.45" stroke-dasharray="0.7 1.1"/>
<line x1="407.60" y1="324.10" x2="444.30" y2="324.10" stroke="#b9bdbf" stroke-width="0.45" stroke-dasharray="0.7 1.1"/>
<line x1="407.60" y1="331.40" x2="444.30" y2="331.40" stroke="#b9bdbf" stroke-width="0.45" stroke-dasharray="0.7 1.1"/>
<line x1="407.60" y1="338.60" x2="444.30" y2="338.60" stroke="#b9bdbf" stroke-width="0.45" stroke-dasharray="0.7 1.1"/>
<line x1="407.60" y1="346.10" x2="444.30" y2="346.10" stroke="#b9bdbf" stroke-width="0.45" stroke-dasharray="0.7 1.1"/>
<line x1="448.70" y1="309.40" x2="484.30" y2="309.40" stroke="#b9bdbf" stroke-width="0.45" stroke-dasharray="0.7 1.1"/>
<line x1="448.70" y1="316.60" x2="475.55" y2="316.60" stroke="#b9bdbf" stroke-width="0.45" stroke-dasharray="0.7 1.1"/>
<line x1="448.70" y1="324.10" x2="465.83" y2="324.10" stroke="#b9bdbf" stroke-width="0.45" stroke-dasharray="0.7 1.1"/>
<line x1="448.70" y1="331.40" x2="456.36" y2="331.40" stroke="#b9bdbf" stroke-width="0.45" stroke-dasharray="0.7 1.1"/>
<line x1="465.83" y1="324.10" x2="484.30" y2="324.10" stroke="#b3b3b0" stroke-width="0.55" />
<line x1="456.36" y1="331.40" x2="484.30" y2="331.40" stroke="#b3b3b0" stroke-width="0.55" />
<line x1="448.70" y1="338.60" x2="484.30" y2="338.60" stroke="#b3b3b0" stroke-width="0.55" />
<line x1="448.70" y1="346.10" x2="484.30" y2="346.10" stroke="#b3b3b0" stroke-width="0.55" />
<line x1="448.70" y1="353.30" x2="484.30" y2="353.30" stroke="#b3b3b0" stroke-width="0.55" />
<line x1="448.70" y1="361.00" x2="484.30" y2="361.00" stroke="#b3b3b0" stroke-width="0.55" />
<line x1="448.70" y1="368.00" x2="484.30" y2="368.00" stroke="#b3b3b0" stroke-width="0.55" />
<line x1="448.70" y1="375.30" x2="484.30" y2="375.30" stroke="#b3b3b0" stroke-width="0.55" />
<line x1="444.30" y1="340.70" x2="489.30" y2="306.00" stroke="#7d858b" stroke-width="0.45" />
<line x1="433.80" y1="377.50" x2="433.80" y2="396.50" stroke="#9aa0a5" stroke-width="0.6" />
<path d="M444.8 377.5V383H484.3" fill="none" stroke="#9aa0a5" stroke-width="0.6"/>
<line x1="464.30" y1="362.60" x2="464.30" y2="392.20" stroke="#6b737a" stroke-width="0.5" />
<path d="M460.6 366.6L464.3 362.6L468 366.6" fill="none" stroke="#6b737a" stroke-width="0.5"/>
<path d="M461.5 322.5L465.5 325.4L461.5 328.5" fill="none" stroke="#6b737a" stroke-width="0.5"/>
<rect x="56.00" y="151.00" width="6.00" height="94.00" fill="#44545f" />
<rect x="56.00" y="271.00" width="6.00" height="34.50" fill="#44545f" />
<rect x="56.00" y="151.00" width="26.50" height="5.50" fill="#44545f" />
<rect x="164.00" y="151.00" width="26.00" height="5.50" fill="#44545f" />
<rect x="184.50" y="151.00" width="5.50" height="63.50" fill="#44545f" />
<rect x="190.00" y="200.00" width="12.50" height="4.50" fill="#44545f" />
<rect x="184.50" y="268.50" width="5.50" height="22.50" fill="#44545f" />
<rect x="167.00" y="276.00" width="23.00" height="15.00" fill="#44545f" />
<rect x="56.00" y="276.00" width="23.80" height="15.00" fill="#44545f" />
<rect x="79.50" y="287.00" width="87.50" height="4.00" fill="#44545f" />
<rect x="82.50" y="151.30" width="81.50" height="4.90" fill="#fff" stroke="#59646d" stroke-width="0.6" />
<rect x="56.30" y="245.00" width="5.40" height="26.00" fill="#fff" stroke="#59646d" stroke-width="0.6" />
<rect x="56.30" y="305.50" width="5.40" height="49.00" fill="#fff" stroke="#59646d" stroke-width="0.6" />
<rect x="56.00" y="354.50" width="6.00" height="5.00" fill="#44545f" />
<rect x="56.30" y="359.50" width="5.40" height="48.00" fill="#fff" stroke="#59646d" stroke-width="0.6" />
<rect x="56.00" y="407.50" width="6.00" height="19.50" fill="#44545f" />
<rect x="56.00" y="422.50" width="21.50" height="4.50" fill="#44545f" />
<rect x="202.50" y="200.30" width="23.50" height="3.90" fill="#fff" stroke="#59646d" stroke-width="0.6" />
<rect x="226.00" y="200.00" width="21.00" height="4.50" fill="#44545f" />
<rect x="247.00" y="200.30" width="17.90" height="4.40" fill="#fff" stroke="#59646d" stroke-width="0.6" />
<rect x="264.90" y="200.00" width="33.10" height="5.00" fill="#44545f" />
<rect x="268.20" y="200.00" width="29.80" height="16.30" fill="#44545f" />
<rect x="298.00" y="200.30" width="39.50" height="3.90" fill="#fff" stroke="#59646d" stroke-width="0.6" />
<rect x="337.50" y="200.00" width="13.00" height="4.50" fill="#44545f" />
<rect x="337.50" y="200.00" width="6.50" height="15.00" fill="#44545f" />
<rect x="239.50" y="204.00" width="3.10" height="33.40" fill="#44545f" />
<rect x="284.40" y="216.00" width="3.70" height="42.00" fill="#44545f" />
<rect x="239.50" y="257.80" width="58.90" height="14.80" fill="#44545f" />
<rect x="228.70" y="268.00" width="6.50" height="23.20" fill="#44545f" />
<rect x="228.70" y="268.00" width="11.30" height="4.60" fill="#44545f" />
<rect x="298.00" y="268.00" width="40.00" height="4.60" fill="#44545f" />
<rect x="338.00" y="257.80" width="6.00" height="33.40" fill="#44545f" />
<rect x="242.60" y="255.00" width="19.70" height="1.90" fill="#fff" stroke="#59646d" stroke-width="0.5" />
<rect x="347.50" y="159.00" width="29.50" height="40.70" fill="#fff" stroke="#4a545d" stroke-width="0.7" />
<line x1="347.50" y1="186.00" x2="377.00" y2="186.00" stroke="#4a545d" stroke-width="0.6" />
<line x1="347.50" y1="192.50" x2="377.00" y2="192.50" stroke="#4a545d" stroke-width="0.6" />
<rect x="373.70" y="200.00" width="20.30" height="5.20" fill="#44545f" />
<rect x="382.10" y="204.00" width="6.50" height="19.80" fill="#44545f" />
<line x1="372.50" y1="204.00" x2="372.50" y2="224.00" stroke="#8d949a" stroke-width="0.5" />
<rect x="394.00" y="200.30" width="57.00" height="3.90" fill="#fff" stroke="#59646d" stroke-width="0.6" />
<rect x="451.00" y="200.00" width="216.60" height="5.50" fill="#44545f" />
<rect x="455.00" y="204.00" width="12.00" height="20.00" fill="#44545f" />
<rect x="462.00" y="224.00" width="5.00" height="5.00" fill="#44545f" />
<rect x="462.00" y="252.50" width="5.00" height="5.00" fill="#44545f" />
<rect x="456.00" y="257.50" width="11.00" height="13.50" fill="#44545f" />
<line x1="444.00" y1="250.80" x2="462.50" y2="250.80" stroke="#59646d" stroke-width="0.6" />
<rect x="382.10" y="257.80" width="6.50" height="13.90" fill="#44545f" />
<rect x="382.10" y="267.60" width="107.90" height="4.30" fill="#44545f" />
<rect x="401.20" y="267.60" width="88.80" height="5.00" fill="#44545f" />
<rect x="402.00" y="271.00" width="5.90" height="106.00" fill="#44545f" />
<rect x="484.50" y="267.00" width="5.50" height="159.50" fill="#44545f" />
<rect x="484.80" y="426.50" width="4.90" height="35.30" fill="#fff" stroke="#59646d" stroke-width="0.6" />
<rect x="484.50" y="461.80" width="5.50" height="31.40" fill="#44545f" />
<rect x="382.20" y="372.60" width="32.80" height="5.10" fill="#44545f" />
<rect x="434.80" y="374.00" width="14.20" height="3.60" fill="#44545f" />
<rect x="444.20" y="307.50" width="4.80" height="70.10" fill="#44545f" />
<rect x="449.00" y="323.50" width="14.50" height="4.00" fill="#44545f" />
<rect x="382.50" y="341.80" width="21.60" height="28.80" fill="#fff" stroke="#8d949a" stroke-width="0.5" stroke-dasharray="0.8 0.9"/>
<line x1="382.50" y1="341.80" x2="404.10" y2="370.60" stroke="#c9cdcf" stroke-width="0.4" stroke-dasharray="0.7 1.1"/>
<line x1="404.10" y1="341.80" x2="382.50" y2="370.60" stroke="#c9cdcf" stroke-width="0.4" stroke-dasharray="0.7 1.1"/>
<rect x="661.80" y="200.00" width="5.80" height="214.30" fill="#44545f" />
<rect x="649.00" y="409.70" width="18.60" height="4.60" fill="#44545f" />
<rect x="489.70" y="409.70" width="15.80" height="4.60" fill="#44545f" />
<rect x="658.60" y="329.00" width="3.40" height="14.60" fill="#44545f" />
<rect x="471.40" y="488.00" width="18.60" height="5.20" fill="#44545f" />
<rect x="390.50" y="487.40" width="22.50" height="6.60" fill="#44545f" />
<rect x="413.00" y="487.70" width="22.80" height="6.00" fill="#fff" stroke="#59646d" stroke-width="0.6" />
<rect x="435.80" y="487.40" width="4.80" height="6.60" fill="#44545f" />
<line x1="470.40" y1="468.60" x2="470.40" y2="488.00" stroke="#59646d" stroke-width="0.6" />
<rect x="364.50" y="450.20" width="22.90" height="94.30" fill="#fff" stroke="#59646d" stroke-width="0.6" />
<rect x="382.00" y="421.00" width="13.00" height="10.50" fill="#44545f" />
<rect x="382.50" y="438.30" width="4.80" height="4.70" fill="#44545f" />
<rect x="368.70" y="452.00" width="17.30" height="4.80" fill="#44545f" />
<rect x="368.70" y="452.00" width="3.90" height="18.00" fill="#44545f" />
<rect x="368.70" y="497.00" width="3.90" height="15.70" fill="#44545f" />
<rect x="368.70" y="508.00" width="8.30" height="4.70" fill="#44545f" />
<rect x="376.00" y="512.70" width="14.50" height="32.30" fill="#44545f" />
<rect x="382.80" y="450.50" width="7.70" height="94.50" fill="#44545f" />
<line x1="383.20" y1="431.50" x2="383.20" y2="450.50" stroke="#8d949a" stroke-width="0.5" />
<line x1="394.60" y1="431.50" x2="394.60" y2="487.40" stroke="#8d949a" stroke-width="0.5" />
<path d="M372.6 470L381 476V492L372.6 497" fill="none" stroke="#b5babd" stroke-width="0.4" stroke-dasharray="0.8 0.8"/>
<circle cx="377" cy="484" r="1.2" fill="none" stroke="#8d949a" stroke-width="0.4"/>
<rect x="386.30" y="547.50" width="5.40" height="22.50" fill="#fff" stroke="#59646d" stroke-width="0.6" />
<rect x="377.50" y="573.80" width="13.50" height="5.60" fill="#44545f" />
<rect x="386.00" y="570.00" width="5.00" height="9.40" fill="#44545f" />
<rect x="185.10" y="573.80" width="14.60" height="5.50" fill="#44545f" />
<rect x="185.10" y="568.00" width="6.10" height="11.30" fill="#44545f" />
<rect x="199.50" y="574.10" width="27.00" height="5.00" fill="#fff" stroke="#59646d" stroke-width="0.6" />
<rect x="226.50" y="573.80" width="4.70" height="5.60" fill="#44545f" />
<rect x="231.20" y="574.10" width="53.10" height="5.00" fill="#fff" stroke="#59646d" stroke-width="0.6" />
<rect x="284.30" y="573.80" width="39.30" height="5.60" fill="#44545f" />
<rect x="323.60" y="574.10" width="53.90" height="5.00" fill="#fff" stroke="#59646d" stroke-width="0.6" />
<rect x="287.50" y="579.70" width="34.50" height="17.30" fill="#fff" stroke="#8d949a" stroke-width="0.5" stroke-dasharray="0.8 0.9"/>
<rect x="290.60" y="590.00" width="4.70" height="4.60" fill="#44545f" />
<path d="M322 594.5H492.4V493.2" fill="none" stroke="#59646d" stroke-width="0.7"/>
<rect x="472.40" y="574.80" width="17.60" height="16.80" fill="#44545f" />
<rect x="443.20" y="498.80" width="27.60" height="14.50" fill="#fff" stroke="#c4c1bd" stroke-width="0.6" />
<rect x="444.30" y="499.90" width="25.40" height="12.30" fill="none" stroke="#d9d6d3" stroke-width="0.4" />
<rect x="56.60" y="571.60" width="7.00" height="7.40" fill="#44545f" />
<rect x="185.30" y="570.50" width="13.00" height="9.20" fill="#44545f" />
<rect x="185.10" y="423.00" width="6.10" height="6.20" fill="#44545f" />
<rect x="77.50" y="422.50" width="107.50" height="4.80" fill="#fff" />
<line x1="77.50" y1="422.80" x2="185.00" y2="422.80" stroke="#aeb4b9" stroke-width="0.7" />
<line x1="77.50" y1="427.50" x2="185.00" y2="427.50" stroke="#aeb4b9" stroke-width="0.5" />
<rect x="77.50" y="425.70" width="38.10" height="1.00" fill="#44545f" />
<rect x="117.10" y="425.70" width="18.90" height="1.00" fill="#44545f" />
<rect x="136.00" y="425.00" width="13.80" height="2.10" fill="#44545f" />
<line x1="149.80" y1="425.20" x2="170.60" y2="425.20" stroke="#7d858b" stroke-width="0.8" />
<rect x="185.10" y="429.00" width="6.10" height="139.00" fill="#fff" />
<line x1="185.30" y1="429.00" x2="185.30" y2="568.00" stroke="#59646d" stroke-width="0.5" />
<line x1="191.00" y1="429.00" x2="191.00" y2="568.00" stroke="#59646d" stroke-width="0.5" />
<rect x="188.00" y="443.00" width="1.20" height="20.50" fill="#44545f" />
<rect x="186.40" y="463.00" width="1.40" height="73.00" fill="#44545f" />
<rect x="185.10" y="535.70" width="6.10" height="5.80" fill="#44545f" />
<line x1="167.50" y1="414.00" x2="167.50" y2="431.70" stroke="#4a545d" stroke-width="0.8" />
<path d="M164.8 429L167.5 431.7L170.2 429" fill="none" stroke="#4a545d" stroke-width="0.6"/>
<line x1="179.80" y1="450.50" x2="198.40" y2="450.50" stroke="#4a545d" stroke-width="0.6" />
<path d="M182.6 447.7L179.8 450.5L182.6 453.3" fill="none" stroke="#4a545d" stroke-width="0.6"/>
<rect x="85.00" y="292.50" width="80.50" height="11.50" fill="#fff" stroke="#7d858b" stroke-width="0.5" />
<circle cx="93" cy="298" r="3.6" fill="#fff" stroke="#7d858b" stroke-width="0.5"/>
<ellipse cx="160.2" cy="299.0" rx="2.3" ry="1.0" transform="rotate(17 160.2 299.0)" fill="#eef2f0" stroke="#6f8c80" stroke-width="0.5"/>
<ellipse cx="158.8" cy="300.4" rx="2.3" ry="1.0" transform="rotate(69 158.8 300.4)" fill="#eef2f0" stroke="#6f8c80" stroke-width="0.5"/>
<ellipse cx="156.8" cy="300.3" rx="2.3" ry="1.0" transform="rotate(120 156.8 300.3)" fill="#eef2f0" stroke="#6f8c80" stroke-width="0.5"/>
<ellipse cx="155.7" cy="298.6" rx="2.3" ry="1.0" transform="rotate(171 155.7 298.6)" fill="#eef2f0" stroke="#6f8c80" stroke-width="0.5"/>
<ellipse cx="156.3" cy="296.7" rx="2.3" ry="1.0" transform="rotate(223 156.3 296.7)" fill="#eef2f0" stroke="#6f8c80" stroke-width="0.5"/>
<ellipse cx="158.2" cy="296.0" rx="2.3" ry="1.0" transform="rotate(274 158.2 296.0)" fill="#eef2f0" stroke="#6f8c80" stroke-width="0.5"/>
<ellipse cx="159.9" cy="297.0" rx="2.3" ry="1.0" transform="rotate(326 159.9 297.0)" fill="#eef2f0" stroke="#6f8c80" stroke-width="0.5"/>
<circle cx="73.4" cy="302.1" r="6.2" fill="#fff" stroke="#8da198" stroke-width="0.9"/>
<circle cx="73.4" cy="302.1" r="4.46" fill="none" stroke="#8da198" stroke-width="0.5"/>
<line x1="74.62" y1="302.35" x2="77.78" y2="302.99" stroke="#8da198" stroke-width="0.6" />
<line x1="74.09" y1="303.13" x2="75.87" y2="305.82" stroke="#8da198" stroke-width="0.6" />
<line x1="73.15" y1="303.32" x2="72.51" y2="306.48" stroke="#8da198" stroke-width="0.6" />
<line x1="72.37" y1="302.79" x2="69.68" y2="304.57" stroke="#8da198" stroke-width="0.6" />
<line x1="72.18" y1="301.85" x2="69.02" y2="301.21" stroke="#8da198" stroke-width="0.6" />
<line x1="72.71" y1="301.07" x2="70.93" y2="298.38" stroke="#8da198" stroke-width="0.6" />
<line x1="73.65" y1="300.88" x2="74.29" y2="297.72" stroke="#8da198" stroke-width="0.6" />
<line x1="74.43" y1="301.41" x2="77.12" y2="299.63" stroke="#8da198" stroke-width="0.6" />
<circle cx="73.4" cy="302.1" r="1.24" fill="#8da198"/>
<rect x="97.50" y="338.00" width="56.30" height="37.00" fill="#fff" stroke="#7d858b" stroke-width="0.5" />
<rect x="100.50" y="331.00" width="14.00" height="5.00" fill="#fff" stroke="#7d858b" stroke-width="0.45" />
<rect x="100.50" y="377.00" width="14.00" height="4.50" fill="#fff" stroke="#7d858b" stroke-width="0.45" />
<rect x="118.50" y="331.00" width="15.00" height="5.00" fill="#fff" stroke="#7d858b" stroke-width="0.45" />
<rect x="118.50" y="377.00" width="15.00" height="4.50" fill="#fff" stroke="#7d858b" stroke-width="0.45" />
<rect x="136.50" y="331.00" width="15.00" height="5.00" fill="#fff" stroke="#7d858b" stroke-width="0.45" />
<rect x="136.50" y="377.00" width="15.00" height="4.50" fill="#fff" stroke="#7d858b" stroke-width="0.45" />
<rect x="91.00" y="349.50" width="4.50" height="15.00" fill="#fff" stroke="#7d858b" stroke-width="0.45" />
<rect x="155.50" y="349.50" width="5.00" height="15.00" fill="#fff" stroke="#7d858b" stroke-width="0.45" />
<ellipse cx="121.3" cy="357.3" rx="2.3" ry="1.0" transform="rotate(17 121.3 357.3)" fill="#eef2f0" stroke="#6f8c80" stroke-width="0.5"/>
<ellipse cx="119.9" cy="358.7" rx="2.3" ry="1.0" transform="rotate(69 119.9 358.7)" fill="#eef2f0" stroke="#6f8c80" stroke-width="0.5"/>
<ellipse cx="117.9" cy="358.6" rx="2.3" ry="1.0" transform="rotate(120 117.9 358.6)" fill="#eef2f0" stroke="#6f8c80" stroke-width="0.5"/>
<ellipse cx="116.8" cy="356.9" rx="2.3" ry="1.0" transform="rotate(171 116.8 356.9)" fill="#eef2f0" stroke="#6f8c80" stroke-width="0.5"/>
<ellipse cx="117.4" cy="355.0" rx="2.3" ry="1.0" transform="rotate(223 117.4 355.0)" fill="#eef2f0" stroke="#6f8c80" stroke-width="0.5"/>
<ellipse cx="119.3" cy="354.3" rx="2.3" ry="1.0" transform="rotate(274 119.3 354.3)" fill="#eef2f0" stroke="#6f8c80" stroke-width="0.5"/>
<ellipse cx="121.0" cy="355.3" rx="2.3" ry="1.0" transform="rotate(326 121.0 355.3)" fill="#eef2f0" stroke="#6f8c80" stroke-width="0.5"/>
<ellipse cx="133.8" cy="357.0" rx="2.3" ry="1.0" transform="rotate(17 133.8 357.0)" fill="#eef2f0" stroke="#6f8c80" stroke-width="0.5"/>
<ellipse cx="132.4" cy="358.4" rx="2.3" ry="1.0" transform="rotate(69 132.4 358.4)" fill="#eef2f0" stroke="#6f8c80" stroke-width="0.5"/>
<ellipse cx="130.4" cy="358.3" rx="2.3" ry="1.0" transform="rotate(120 130.4 358.3)" fill="#eef2f0" stroke="#6f8c80" stroke-width="0.5"/>
<ellipse cx="129.3" cy="356.6" rx="2.3" ry="1.0" transform="rotate(171 129.3 356.6)" fill="#eef2f0" stroke="#6f8c80" stroke-width="0.5"/>
<ellipse cx="129.9" cy="354.7" rx="2.3" ry="1.0" transform="rotate(223 129.9 354.7)" fill="#eef2f0" stroke="#6f8c80" stroke-width="0.5"/>
<ellipse cx="131.8" cy="354.0" rx="2.3" ry="1.0" transform="rotate(274 131.8 354.0)" fill="#eef2f0" stroke="#6f8c80" stroke-width="0.5"/>
<ellipse cx="133.5" cy="355.0" rx="2.3" ry="1.0" transform="rotate(326 133.5 355.0)" fill="#eef2f0" stroke="#6f8c80" stroke-width="0.5"/>
<rect x="105.50" y="481.50" width="36.80" height="36.70" fill="#fff" stroke="#9aa0a5" stroke-width="0.5" />
<rect x="110.30" y="475.40" width="11.40" height="5.00" fill="#fff" stroke="#a9aeb2" stroke-width="0.45" rx="0.8"/>
<rect x="110.30" y="519.00" width="11.40" height="5.00" fill="#fff" stroke="#a9aeb2" stroke-width="0.45" rx="0.8"/>
<rect x="126.70" y="475.40" width="11.30" height="5.00" fill="#fff" stroke="#a9aeb2" stroke-width="0.45" rx="0.8"/>
<rect x="126.70" y="519.00" width="11.30" height="5.00" fill="#fff" stroke="#a9aeb2" stroke-width="0.45" rx="0.8"/>
<rect x="99.50" y="486.50" width="4.50" height="11.50" fill="#fff" stroke="#a9aeb2" stroke-width="0.45" rx="0.8"/>
<rect x="143.60" y="486.50" width="4.70" height="11.50" fill="#fff" stroke="#a9aeb2" stroke-width="0.45" rx="0.8"/>
<rect x="99.50" y="502.00" width="4.50" height="11.40" fill="#fff" stroke="#a9aeb2" stroke-width="0.45" rx="0.8"/>
<rect x="143.60" y="502.00" width="4.70" height="11.40" fill="#fff" stroke="#a9aeb2" stroke-width="0.45" rx="0.8"/>
<ellipse cx="120.0" cy="500.1" rx="1.6" ry="0.7" transform="rotate(17 120.0 500.1)" fill="#eef2f0" stroke="#5f7f72" stroke-width="0.5"/>
<ellipse cx="119.1" cy="501.1" rx="1.6" ry="0.7" transform="rotate(69 119.1 501.1)" fill="#eef2f0" stroke="#5f7f72" stroke-width="0.5"/>
<ellipse cx="117.7" cy="501.0" rx="1.6" ry="0.7" transform="rotate(120 117.7 501.0)" fill="#eef2f0" stroke="#5f7f72" stroke-width="0.5"/>
<ellipse cx="116.9" cy="499.8" rx="1.6" ry="0.7" transform="rotate(171 116.9 499.8)" fill="#eef2f0" stroke="#5f7f72" stroke-width="0.5"/>
<ellipse cx="117.3" cy="498.5" rx="1.6" ry="0.7" transform="rotate(223 117.3 498.5)" fill="#eef2f0" stroke="#5f7f72" stroke-width="0.5"/>
<ellipse cx="118.6" cy="498.0" rx="1.6" ry="0.7" transform="rotate(274 118.6 498.0)" fill="#eef2f0" stroke="#5f7f72" stroke-width="0.5"/>
<ellipse cx="119.8" cy="498.7" rx="1.6" ry="0.7" transform="rotate(326 119.8 498.7)" fill="#eef2f0" stroke="#5f7f72" stroke-width="0.5"/>
<ellipse cx="130.0" cy="500.1" rx="1.6" ry="0.7" transform="rotate(17 130.0 500.1)" fill="#eef2f0" stroke="#5f7f72" stroke-width="0.5"/>
<ellipse cx="129.1" cy="501.1" rx="1.6" ry="0.7" transform="rotate(69 129.1 501.1)" fill="#eef2f0" stroke="#5f7f72" stroke-width="0.5"/>
<ellipse cx="127.7" cy="501.0" rx="1.6" ry="0.7" transform="rotate(120 127.7 501.0)" fill="#eef2f0" stroke="#5f7f72" stroke-width="0.5"/>
<ellipse cx="126.9" cy="499.8" rx="1.6" ry="0.7" transform="rotate(171 126.9 499.8)" fill="#eef2f0" stroke="#5f7f72" stroke-width="0.5"/>
<ellipse cx="127.3" cy="498.5" rx="1.6" ry="0.7" transform="rotate(223 127.3 498.5)" fill="#eef2f0" stroke="#5f7f72" stroke-width="0.5"/>
<ellipse cx="128.6" cy="498.0" rx="1.6" ry="0.7" transform="rotate(274 128.6 498.0)" fill="#eef2f0" stroke="#5f7f72" stroke-width="0.5"/>
<ellipse cx="129.8" cy="498.7" rx="1.6" ry="0.7" transform="rotate(326 129.8 498.7)" fill="#eef2f0" stroke="#5f7f72" stroke-width="0.5"/>
<line x1="115.50" y1="499.60" x2="131.50" y2="499.60" stroke="#5f7f72" stroke-width="0.6" />
<rect x="59.30" y="505.20" width="14.20" height="33.30" fill="#fff" stroke="#7d858b" stroke-width="0.5" />
<line x1="70.80" y1="519.00" x2="70.80" y2="525.00" stroke="#7d858b" stroke-width="0.4" />
<rect x="61.40" y="498.40" width="10.50" height="6.80" fill="#fff" stroke="#7d858b" stroke-width="0.4" />
<circle cx="67.5" cy="502" r="2.1" fill="none" stroke="#8d949a" stroke-width="0.4"/>
<circle cx="73.9" cy="561.8" r="8.5" fill="#fff" stroke="#9fb3aa" stroke-width="0.8"/>
<circle cx="73.9" cy="561.8" r="6.29" fill="#f3f6f4" stroke="#9fb3aa" stroke-width="0.5"/>
<line x1="75.60" y1="561.80" x2="79.85" y2="561.80" stroke="#9fb3aa" stroke-width="0.55" />
<line x1="75.43" y1="562.54" x2="79.26" y2="564.38" stroke="#9fb3aa" stroke-width="0.55" />
<line x1="74.96" y1="563.13" x2="77.61" y2="566.45" stroke="#9fb3aa" stroke-width="0.55" />
<line x1="74.28" y1="563.46" x2="75.22" y2="567.60" stroke="#9fb3aa" stroke-width="0.55" />
<line x1="73.52" y1="563.46" x2="72.58" y2="567.60" stroke="#9fb3aa" stroke-width="0.55" />
<line x1="72.84" y1="563.13" x2="70.19" y2="566.45" stroke="#9fb3aa" stroke-width="0.55" />
<line x1="72.37" y1="562.54" x2="68.54" y2="564.38" stroke="#9fb3aa" stroke-width="0.55" />
<line x1="72.20" y1="561.80" x2="67.95" y2="561.80" stroke="#9fb3aa" stroke-width="0.55" />
<line x1="72.37" y1="561.06" x2="68.54" y2="559.22" stroke="#9fb3aa" stroke-width="0.55" />
<line x1="72.84" y1="560.47" x2="70.19" y2="557.15" stroke="#9fb3aa" stroke-width="0.55" />
<line x1="73.52" y1="560.14" x2="72.58" y2="556.00" stroke="#9fb3aa" stroke-width="0.55" />
<line x1="74.28" y1="560.14" x2="75.22" y2="556.00" stroke="#9fb3aa" stroke-width="0.55" />
<line x1="74.96" y1="560.47" x2="77.61" y2="557.15" stroke="#9fb3aa" stroke-width="0.55" />
<line x1="75.43" y1="561.06" x2="79.26" y2="559.22" stroke="#9fb3aa" stroke-width="0.55" />
<circle cx="73.9" cy="561.8" r="2.12" fill="#b5c6be"/>
<circle cx="88" cy="569.8" r="6.3" fill="#fff" stroke="#8da198" stroke-width="0.9"/>
<circle cx="88" cy="569.8" r="4.54" fill="none" stroke="#8da198" stroke-width="0.5"/>
<line x1="89.23" y1="570.05" x2="92.45" y2="570.70" stroke="#8da198" stroke-width="0.6" />
<line x1="88.85" y1="570.73" x2="91.07" y2="573.14" stroke="#8da198" stroke-width="0.6" />
<line x1="88.14" y1="571.05" x2="88.52" y2="574.31" stroke="#8da198" stroke-width="0.6" />
<line x1="87.38" y1="570.90" x2="85.77" y2="573.75" stroke="#8da198" stroke-width="0.6" />
<line x1="86.85" y1="570.32" x2="83.87" y2="571.68" stroke="#8da198" stroke-width="0.6" />
<line x1="86.77" y1="569.55" x2="83.55" y2="568.90" stroke="#8da198" stroke-width="0.6" />
<line x1="87.15" y1="568.87" x2="84.93" y2="566.46" stroke="#8da198" stroke-width="0.6" />
<line x1="87.86" y1="568.55" x2="87.48" y2="565.29" stroke="#8da198" stroke-width="0.6" />
<line x1="88.62" y1="568.70" x2="90.23" y2="565.85" stroke="#8da198" stroke-width="0.6" />
<line x1="89.15" y1="569.28" x2="92.13" y2="567.92" stroke="#8da198" stroke-width="0.6" />
<circle cx="88" cy="569.8" r="1.26" fill="#8da198"/>
<circle cx="173.9" cy="565.4" r="8.5" fill="#fff" stroke="#9fb3aa" stroke-width="0.8"/>
<circle cx="173.9" cy="565.4" r="6.29" fill="#f3f6f4" stroke="#9fb3aa" stroke-width="0.5"/>
<line x1="175.60" y1="565.40" x2="179.85" y2="565.40" stroke="#9fb3aa" stroke-width="0.55" />
<line x1="175.43" y1="566.14" x2="179.26" y2="567.98" stroke="#9fb3aa" stroke-width="0.55" />
<line x1="174.96" y1="566.73" x2="177.61" y2="570.05" stroke="#9fb3aa" stroke-width="0.55" />
<line x1="174.28" y1="567.06" x2="175.22" y2="571.20" stroke="#9fb3aa" stroke-width="0.55" />
<line x1="173.52" y1="567.06" x2="172.58" y2="571.20" stroke="#9fb3aa" stroke-width="0.55" />
<line x1="172.84" y1="566.73" x2="170.19" y2="570.05" stroke="#9fb3aa" stroke-width="0.55" />
<line x1="172.37" y1="566.14" x2="168.54" y2="567.98" stroke="#9fb3aa" stroke-width="0.55" />
<line x1="172.20" y1="565.40" x2="167.95" y2="565.40" stroke="#9fb3aa" stroke-width="0.55" />
<line x1="172.37" y1="564.66" x2="168.54" y2="562.82" stroke="#9fb3aa" stroke-width="0.55" />
<line x1="172.84" y1="564.07" x2="170.19" y2="560.75" stroke="#9fb3aa" stroke-width="0.55" />
<line x1="173.52" y1="563.74" x2="172.58" y2="559.60" stroke="#9fb3aa" stroke-width="0.55" />
<line x1="174.28" y1="563.74" x2="175.22" y2="559.60" stroke="#9fb3aa" stroke-width="0.55" />
<line x1="174.96" y1="564.07" x2="177.61" y2="560.75" stroke="#9fb3aa" stroke-width="0.55" />
<line x1="175.43" y1="564.66" x2="179.26" y2="562.82" stroke="#9fb3aa" stroke-width="0.55" />
<circle cx="173.9" cy="565.4" r="2.12" fill="#b5c6be"/>
<path d="M108.8 160.5H180V206.3H154.5V185H108.8Z" fill="#fff" stroke="#7d858b" stroke-width="0.5"/>
<line x1="145.00" y1="166.00" x2="145.00" y2="185.00" stroke="#7d858b" stroke-width="0.4" />
<line x1="112.50" y1="166.00" x2="112.50" y2="185.00" stroke="#7d858b" stroke-width="0.4" />
<line x1="112.50" y1="166.00" x2="176.00" y2="166.00" stroke="#c5c9cc" stroke-width="0.4" />
<line x1="154.50" y1="185.00" x2="180.00" y2="185.00" stroke="#7d858b" stroke-width="0.4" />
<rect x="113.5" y="162" width="16" height="5.5" rx="1.5" fill="#0f7f8c" transform="rotate(-8 121 165)"/>
<rect x="113" y="167" width="12" height="6" rx="1.5" fill="#a89f98" transform="rotate(-25 119 170)"/>
<rect x="162" y="165.5" width="14" height="7" rx="1" fill="#2b4f63" transform="rotate(40 169 169)"/>
<rect x="161" y="165" width="7" height="6" rx="1" fill="#0f7f8c" transform="rotate(40 164.5 168)"/>
<g transform="translate(-0.5 3) rotate(-18 80 170)"><rect x="70" y="160" width="20" height="24" rx="2" fill="#fff" stroke="#7d858b" stroke-width="0.5"/><path d="M73 184V168Q73 164 77 164H83Q87 164 87 168V184" fill="none" stroke="#7d858b" stroke-width="0.45"/></g>
<ellipse cx="83.5" cy="168.8" rx="3.6" ry="2.6" fill="#0f7f8c" transform="rotate(20 83 168.5)"/>
<ellipse cx="80.5" cy="168.8" rx="2.6" ry="2.2" fill="#c9cfd1"/>
<circle cx="99.3" cy="166.3" r="6.8" fill="#fff" stroke="#7d858b" stroke-width="0.5"/><circle cx="99.3" cy="166.3" r="4.2" fill="none" stroke="#8a7f76" stroke-width="1"/><path d="M99.3 163.8L101.6 168H97Z" fill="none" stroke="#8a7f76" stroke-width="0.5"/>
<line x1="173.60" y1="166.00" x2="173.60" y2="206.30" stroke="#c5c9cc" stroke-width="0.4" />
<rect x="104.50" y="203.50" width="38.00" height="22.50" fill="#fff" stroke="#b9bdc0" stroke-width="0.5" />
<ellipse cx="115.5" cy="215.1" rx="2.1" ry="1.0" transform="rotate(17 115.5 215.1)" fill="#eef2f0" stroke="#6f8c80" stroke-width="0.5"/>
<ellipse cx="114.3" cy="216.5" rx="2.1" ry="1.0" transform="rotate(69 114.3 216.5)" fill="#eef2f0" stroke="#6f8c80" stroke-width="0.5"/>
<ellipse cx="112.4" cy="216.3" rx="2.1" ry="1.0" transform="rotate(120 112.4 216.3)" fill="#eef2f0" stroke="#6f8c80" stroke-width="0.5"/>
<ellipse cx="111.4" cy="214.8" rx="2.1" ry="1.0" transform="rotate(171 111.4 214.8)" fill="#eef2f0" stroke="#6f8c80" stroke-width="0.5"/>
<ellipse cx="112.0" cy="213.1" rx="2.1" ry="1.0" transform="rotate(223 112.0 213.1)" fill="#eef2f0" stroke="#6f8c80" stroke-width="0.5"/>
<ellipse cx="113.7" cy="212.4" rx="2.1" ry="1.0" transform="rotate(274 113.7 212.4)" fill="#eef2f0" stroke="#6f8c80" stroke-width="0.5"/>
<ellipse cx="115.2" cy="213.3" rx="2.1" ry="1.0" transform="rotate(326 115.2 213.3)" fill="#eef2f0" stroke="#6f8c80" stroke-width="0.5"/>
<circle cx="123" cy="211" r="3.5" fill="none" stroke="#7fb0b5" stroke-width="0.5"/>
<rect x="124.50" y="210.50" width="11.00" height="6.00" fill="none" stroke="#7fb0b5" stroke-width="0.5" />
<rect x="121.00" y="215.00" width="9.00" height="7.50" fill="none" stroke="#7fb0b5" stroke-width="0.5" rx="1"/>
<path d="M231.2 451.5H256.8V528.2H295.8V553H241Q231.2 553 231.2 543Z" fill="#fff" stroke="#aab1b6" stroke-width="0.5"/>
<line x1="256.80" y1="528.20" x2="256.80" y2="553.00" stroke="#c5c9cc" stroke-width="0.4" />
<line x1="231.20" y1="528.20" x2="256.80" y2="528.20" stroke="#c5c9cc" stroke-width="0.4" />
<line x1="276.20" y1="528.20" x2="276.20" y2="553.00" stroke="#c5c9cc" stroke-width="0.4" />
<line x1="231.20" y1="477.00" x2="256.80" y2="477.00" stroke="#c5c9cc" stroke-width="0.4" />
<line x1="231.20" y1="504.40" x2="256.80" y2="504.40" stroke="#c5c9cc" stroke-width="0.4" />
<rect x="235.20" y="483.20" width="7.40" height="18.60" fill="#fff" stroke="#b9bdc0" stroke-width="0.4" rx="2"/>
<rect x="235.20" y="515.00" width="7.40" height="14.00" fill="#fff" stroke="#b9bdc0" stroke-width="0.4" rx="2"/>
<rect x="242.60" y="544.00" width="18.60" height="7.00" fill="#fff" stroke="#b9bdc0" stroke-width="0.4" rx="2"/>
<rect x="266.00" y="544.00" width="18.00" height="7.00" fill="#fff" stroke="#b9bdc0" stroke-width="0.4" rx="2"/>
<rect x="236" y="455.5" width="10" height="7" rx="1" fill="#2b4f63" transform="rotate(-30 241 459)"/>
<rect x="236" y="460" width="7" height="12" rx="1.5" fill="#0f7f8c" transform="rotate(15 239.5 466)"/>
<ellipse cx="242.5" cy="475" rx="4.5" ry="3.6" fill="#b0a69f"/>
<ellipse cx="241" cy="535.5" rx="4.5" ry="3.6" fill="#b0a69f"/>
<rect x="236.5" y="538" width="7" height="10" rx="1.5" fill="#0f7f8c" transform="rotate(-30 240 543)"/>
<rect x="283" y="536" width="9" height="12" rx="3" fill="#0f7f8c" transform="rotate(10 287.5 542)"/>
<rect x="282.5" y="544.5" width="10" height="5" rx="1" fill="#2b4f63" transform="rotate(25 287.5 547)"/>
<rect x="280.00" y="473.50" width="29.50" height="36.50" fill="#fff" />
<ellipse cx="293.7" cy="485.0" rx="1.8" ry="0.8" transform="rotate(17 293.7 485.0)" fill="#eef2f0" stroke="#6f8c80" stroke-width="0.5"/>
<ellipse cx="292.7" cy="486.2" rx="1.8" ry="0.8" transform="rotate(69 292.7 486.2)" fill="#eef2f0" stroke="#6f8c80" stroke-width="0.5"/>
<ellipse cx="291.1" cy="486.1" rx="1.8" ry="0.8" transform="rotate(120 291.1 486.1)" fill="#eef2f0" stroke="#6f8c80" stroke-width="0.5"/>
<ellipse cx="290.2" cy="484.8" rx="1.8" ry="0.8" transform="rotate(171 290.2 484.8)" fill="#eef2f0" stroke="#6f8c80" stroke-width="0.5"/>
<ellipse cx="290.7" cy="483.3" rx="1.8" ry="0.8" transform="rotate(223 290.7 483.3)" fill="#eef2f0" stroke="#6f8c80" stroke-width="0.5"/>
<ellipse cx="292.1" cy="482.7" rx="1.8" ry="0.8" transform="rotate(274 292.1 482.7)" fill="#eef2f0" stroke="#6f8c80" stroke-width="0.5"/>
<ellipse cx="293.5" cy="483.5" rx="1.8" ry="0.8" transform="rotate(326 293.5 483.5)" fill="#eef2f0" stroke="#6f8c80" stroke-width="0.5"/>
<rect x="287.50" y="493.00" width="6.00" height="6.00" fill="none" stroke="#7fb0b5" stroke-width="0.5" />
<rect x="291.00" y="495.00" width="6.00" height="6.00" fill="none" stroke="#7fb0b5" stroke-width="0.5" />
<circle cx="522.9" cy="632.9" r="19.4" fill="#fdfdfd" stroke="#efefef" stroke-width="1"/>
<text x="31.3" y="55" font-size="28" font-weight="normal" text-anchor="start" fill="#46525d"  textLength="134.6" lengthAdjust="spacingAndGlyphs" stroke="#fff" stroke-width="0.5">main floor</text>
<text x="122" y="249.2" font-size="9.2" font-weight="bold" text-anchor="middle" fill="#3b4854" stroke="#3b4854" stroke-width="0.25"  textLength="76" lengthAdjust="spacingAndGlyphs" >MULTI-PURPOSE</text>
<text x="122" y="259.6" font-size="9.2" font-weight="bold" text-anchor="middle" fill="#3b4854" stroke="#3b4854" stroke-width="0.25"  textLength="29.5" lengthAdjust="spacingAndGlyphs" >ROOM</text>
<text x="256.4" y="242.9" font-size="9" font-weight="bold" text-anchor="middle" fill="#3b4854" stroke="#3b4854" stroke-width="0.25"  textLength="19" lengthAdjust="spacingAndGlyphs" >PDR</text>
<text x="319" y="242.9" font-size="9" font-weight="bold" text-anchor="middle" fill="#3b4854" stroke="#3b4854" stroke-width="0.25"  textLength="37.7" lengthAdjust="spacingAndGlyphs" >PANTRY</text>
<text x="425.4" y="238.8" font-size="8.6" font-weight="bold" text-anchor="middle" fill="#3b4854" stroke="#3b4854" stroke-width="0.25"  textLength="80.4" lengthAdjust="spacingAndGlyphs" >GRAND BUTLER’S</text>
<text x="425" y="249" font-size="8.6" font-weight="bold" text-anchor="middle" fill="#3b4854" stroke="#3b4854" stroke-width="0.25"  textLength="38" lengthAdjust="spacingAndGlyphs" >PANTRY</text>
<text x="446" y="296.2" font-size="9" font-weight="bold" text-anchor="middle" fill="#3b4854" stroke="#3b4854" stroke-width="0.25"  textLength="44" lengthAdjust="spacingAndGlyphs" >STORAGE</text>
<text x="284.5" y="318.4" font-size="9" font-weight="bold" text-anchor="middle" fill="#3b4854" stroke="#3b4854" stroke-width="0.25"  textLength="41" lengthAdjust="spacingAndGlyphs" >KITCHEN</text>
<text x="581.5" y="329.9" font-size="9" font-weight="bold" text-anchor="middle" fill="#3b4854" stroke="#3b4854" stroke-width="0.25"  textLength="69.5" lengthAdjust="spacingAndGlyphs" >2-CAR GARAGE</text>
<text x="126.5" y="400.3" font-size="9" font-weight="bold" text-anchor="middle" fill="#3b4854" stroke="#3b4854" stroke-width="0.25"  textLength="34" lengthAdjust="spacingAndGlyphs" >DINING</text>
<text x="122" y="451.9" font-size="9" font-weight="bold" text-anchor="middle" fill="#3b4854" stroke="#3b4854" stroke-width="0.25"  textLength="83" lengthAdjust="spacingAndGlyphs" >OUTDOOR ROOM</text>
<text x="295.4" y="461.5" font-size="8.8" font-weight="bold" text-anchor="middle" fill="#3b4854" stroke="#3b4854" stroke-width="0.25"  textLength="63.2" lengthAdjust="spacingAndGlyphs" >GREAT ROOM</text>
<text x="447.8" y="446" font-size="9" font-weight="bold" text-anchor="middle" fill="#3b4854" stroke="#3b4854" stroke-width="0.25"  textLength="31" lengthAdjust="spacingAndGlyphs" >FOYER</text>
<text x="452.3" y="556.1" font-size="9" font-weight="bold" text-anchor="middle" fill="#3b4854" stroke="#3b4854" stroke-width="0.25"  textLength="33" lengthAdjust="spacingAndGlyphs" >PORCH</text>
<text x="309.3" y="195.5" font-size="8.2" font-weight="normal" text-anchor="middle" fill="#3c4751" font-style="italic" textLength="66.5" lengthAdjust="spacingAndGlyphs" >window splashback</text>
<text x="424.5" y="195.5" font-size="8.2" font-weight="normal" text-anchor="middle" fill="#3c4751" font-style="italic" textLength="67" lengthAdjust="spacingAndGlyphs" >window splashback</text>
<text x="390.3" y="354.7" font-size="8.3" font-weight="normal" text-anchor="middle" fill="#3c4751" font-style="italic" textLength="19" lengthAdjust="spacingAndGlyphs" >fridge</text>
<text x="390.5" y="362.8" font-size="8.3" font-weight="normal" text-anchor="middle" fill="#3c4751" font-style="italic" textLength="19.8" lengthAdjust="spacingAndGlyphs" >space</text>
<text x="464.6" y="399" font-size="8.2" font-weight="normal" text-anchor="middle" fill="#3c4751" font-style="italic" >up</text>
<text font-size="7.8" font-style="italic" fill="#3c4751" text-anchor="middle" transform="translate(358.6 483) rotate(90)" textLength="30" lengthAdjust="spacingAndGlyphs">fireplace</text>
<text x="457.1" y="507.8" font-size="5" font-weight="normal" text-anchor="middle" fill="#8d949a" font-style="italic" textLength="19.4" lengthAdjust="spacingAndGlyphs" >welcome</text>
</svg>
</body></html>
